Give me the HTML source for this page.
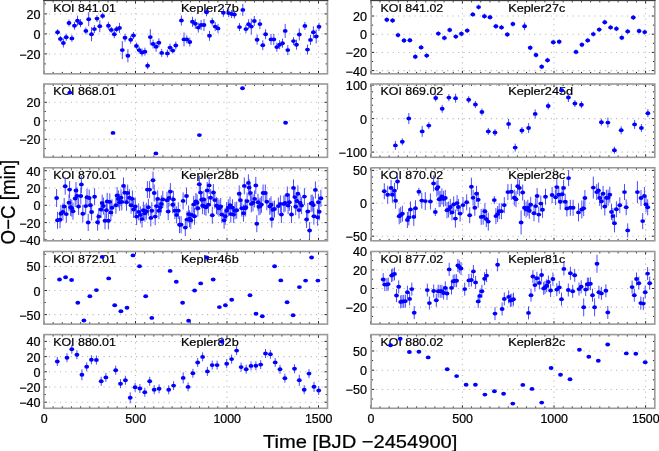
<!DOCTYPE html>
<html><head><meta charset="utf-8"><style>
html,body{margin:0;padding:0;background:#fff;}
body{width:659px;height:451px;overflow:hidden;}
svg{display:block;filter:blur(0.35px);}
text{font-family:"Liberation Sans", sans-serif;stroke:#000;stroke-width:0.22px;}
</style></head><body>
<svg width="659" height="451" viewBox="0 0 659 451">
<rect width="659" height="451" fill="#fff"/>
<g stroke="#b4b4b4" stroke-width="1.05" stroke-dasharray="1.05 4.4" stroke-dashoffset="0.52"><line x1="135.50" y1="73.80" x2="135.50" y2="1.30"/><line x1="227.00" y1="73.80" x2="227.00" y2="1.30"/><line x1="318.50" y1="73.80" x2="318.50" y2="1.30"/><line x1="44.10" y1="53.90" x2="326.70" y2="53.90"/><line x1="44.10" y1="33.90" x2="326.70" y2="33.90"/><line x1="44.10" y1="13.90" x2="326.70" y2="13.90"/></g><g fill="#000" font-family='"Liberation Sans", sans-serif'><text x="0" y="0" font-size="11.70" text-anchor="start" transform="translate(53.20 11.70) scale(1.060 1)">KOI 841.01</text><text x="0" y="0" font-size="11.70" text-anchor="start" transform="translate(180.90 11.70) scale(1.085 1)">Kepler27b</text></g><path d="M44.00 73.80v-3.00M44.00 0.50v3.00M53.15 73.80v-1.90M53.15 0.50v1.90M62.30 73.80v-1.90M62.30 0.50v1.90M71.45 73.80v-1.90M71.45 0.50v1.90M80.60 73.80v-1.90M80.60 0.50v1.90M89.75 73.80v-1.90M89.75 0.50v1.90M98.90 73.80v-1.90M98.90 0.50v1.90M108.05 73.80v-1.90M108.05 0.50v1.90M117.20 73.80v-1.90M117.20 0.50v1.90M126.35 73.80v-1.90M126.35 0.50v1.90M135.50 73.80v-3.00M135.50 0.50v3.00M144.65 73.80v-1.90M144.65 0.50v1.90M153.80 73.80v-1.90M153.80 0.50v1.90M162.95 73.80v-1.90M162.95 0.50v1.90M172.10 73.80v-1.90M172.10 0.50v1.90M181.25 73.80v-1.90M181.25 0.50v1.90M190.40 73.80v-1.90M190.40 0.50v1.90M199.55 73.80v-1.90M199.55 0.50v1.90M208.70 73.80v-1.90M208.70 0.50v1.90M217.85 73.80v-1.90M217.85 0.50v1.90M227.00 73.80v-3.00M227.00 0.50v3.00M236.15 73.80v-1.90M236.15 0.50v1.90M245.30 73.80v-1.90M245.30 0.50v1.90M254.45 73.80v-1.90M254.45 0.50v1.90M263.60 73.80v-1.90M263.60 0.50v1.90M272.75 73.80v-1.90M272.75 0.50v1.90M281.90 73.80v-1.90M281.90 0.50v1.90M291.05 73.80v-1.90M291.05 0.50v1.90M300.20 73.80v-1.90M300.20 0.50v1.90M309.35 73.80v-1.90M309.35 0.50v1.90M318.50 73.80v-3.00M318.50 0.50v3.00M43.90 63.90h1.90M327.50 63.90h-1.90M43.90 53.90h3.00M327.50 53.90h-3.00M43.90 43.90h1.90M327.50 43.90h-1.90M43.90 33.90h3.00M327.50 33.90h-3.00M43.90 23.90h1.90M327.50 23.90h-1.90M43.90 13.90h3.00M327.50 13.90h-3.00M43.90 3.90h1.90M327.50 3.90h-1.90" stroke="#262626" stroke-width="1" fill="none"/><rect x="43.90" y="0.50" width="283.60" height="73.30" fill="none" stroke="#9a9a9a" stroke-width="1.6"/><line x1="43.10" y1="0.5" x2="328.30" y2="0.5" stroke="#3c3c3c" stroke-width="1"/><g fill="#000" font-family='"Liberation Sans", sans-serif'><text x="0" y="0" font-size="12.00" text-anchor="end" transform="translate(40.50 18.95) scale(1.050 1)">20</text><text x="0" y="0" font-size="12.00" text-anchor="end" transform="translate(40.50 38.95) scale(1.050 1)">0</text><text x="0" y="0" font-size="12.00" text-anchor="end" transform="translate(40.50 58.95) scale(1.050 1)">−20</text></g><path d="M57.6 29.3v6.0M60.4 35.9v6.0M63.4 38.5v9.0M66.2 33.8v7.0M69.0 19.5v7.0M71.9 34.9v7.0M74.5 21.8v8.0M77.5 15.7v10.0M80.5 19.2v8.0M85.9 27.4v7.0M88.7 12.2v14.0M91.5 27.2v14.0M94.4 25.1v8.0M97.0 15.1v7.0M99.8 20.3v12.0M102.6 12.9v6.0M108.4 21.8v8.0M111.3 26.9v6.0M114.3 30.2v8.0M116.6 26.2v6.0M119.5 22.9v10.0M122.3 41.1v18.0M125.0 33.8v8.0M127.9 49.3v13.0M130.7 35.7v8.0M133.5 32.0v7.0M136.4 42.5v7.0M139.2 46.6v7.0M142.0 48.5v8.0M144.9 47.7v8.0M147.6 62.2v7.0M150.3 29.1v16.0M153.1 39.5v9.0M156.1 41.8v10.0M158.9 38.2v9.0M161.7 48.9v8.0M167.4 49.4v8.0M170.0 43.6v8.0M172.8 47.6v6.0M175.8 41.5v8.0M181.4 15.5v10.0M184.0 32.4v14.0M186.8 35.4v8.0M189.8 37.5v9.0M192.5 16.8v10.0M195.3 18.8v10.0M198.3 22.6v10.0M201.1 20.0v10.0M204.0 19.0v12.0M206.5 8.3v8.0M209.5 30.8v10.0M212.2 17.7v8.0M215.2 22.1v9.0M218.0 23.9v9.0M223.4 8.8v8.0M228.7 9.1v8.0M231.6 10.0v8.0M234.4 10.5v8.0M239.5 23.1v8.0M242.8 3.9v12.0M245.9 25.1v8.0M248.6 19.3v10.0M251.3 18.6v16.0M254.3 16.0v10.0M257.1 34.7v10.0M259.9 19.1v10.0M262.8 40.2v10.0M265.6 29.2v10.0M271.0 33.9v11.0M273.8 33.9v11.0M276.8 42.6v9.0M279.6 40.2v9.0M282.5 38.7v9.0M285.2 23.9v14.0M287.8 45.1v10.0M293.5 37.1v8.0M296.5 39.7v10.0M299.3 28.5v12.0M304.9 21.9v8.0M307.5 44.6v10.0M310.5 34.9v10.0M313.4 26.3v12.0M316.2 29.5v14.0M319.0 22.8v8.0" stroke="#4c4cff" stroke-width="1.0" fill="none"/><g fill="#0000ff"><ellipse cx="57.6" cy="32.3" rx="2.4" ry="1.95"/><ellipse cx="60.4" cy="38.9" rx="2.4" ry="1.95"/><ellipse cx="63.4" cy="43.0" rx="2.4" ry="1.95"/><ellipse cx="66.2" cy="37.3" rx="2.4" ry="1.95"/><ellipse cx="69.0" cy="23.0" rx="2.4" ry="1.95"/><ellipse cx="71.9" cy="38.4" rx="2.4" ry="1.95"/><ellipse cx="74.5" cy="25.8" rx="2.4" ry="1.95"/><ellipse cx="77.5" cy="20.7" rx="2.4" ry="1.95"/><ellipse cx="80.5" cy="23.2" rx="2.4" ry="1.95"/><ellipse cx="85.9" cy="30.9" rx="2.4" ry="1.95"/><ellipse cx="88.7" cy="19.2" rx="2.4" ry="1.95"/><ellipse cx="91.5" cy="34.2" rx="2.4" ry="1.95"/><ellipse cx="94.4" cy="29.1" rx="2.4" ry="1.95"/><ellipse cx="97.0" cy="18.6" rx="2.4" ry="1.95"/><ellipse cx="99.8" cy="26.3" rx="2.4" ry="1.95"/><ellipse cx="102.6" cy="15.9" rx="2.4" ry="1.95"/><ellipse cx="108.4" cy="25.8" rx="2.4" ry="1.95"/><ellipse cx="111.3" cy="29.9" rx="2.4" ry="1.95"/><ellipse cx="114.3" cy="34.2" rx="2.4" ry="1.95"/><ellipse cx="116.6" cy="29.2" rx="2.4" ry="1.95"/><ellipse cx="119.5" cy="27.9" rx="2.4" ry="1.95"/><ellipse cx="122.3" cy="50.1" rx="2.4" ry="1.95"/><ellipse cx="125.0" cy="37.8" rx="2.4" ry="1.95"/><ellipse cx="127.9" cy="55.8" rx="2.4" ry="1.95"/><ellipse cx="130.7" cy="39.7" rx="2.4" ry="1.95"/><ellipse cx="133.5" cy="35.5" rx="2.4" ry="1.95"/><ellipse cx="136.4" cy="46.0" rx="2.4" ry="1.95"/><ellipse cx="139.2" cy="50.1" rx="2.4" ry="1.95"/><ellipse cx="142.0" cy="52.5" rx="2.4" ry="1.95"/><ellipse cx="144.9" cy="51.7" rx="2.4" ry="1.95"/><ellipse cx="147.6" cy="65.7" rx="2.4" ry="1.95"/><ellipse cx="150.3" cy="37.1" rx="2.4" ry="1.95"/><ellipse cx="153.1" cy="44.0" rx="2.4" ry="1.95"/><ellipse cx="156.1" cy="46.8" rx="2.4" ry="1.95"/><ellipse cx="158.9" cy="42.7" rx="2.4" ry="1.95"/><ellipse cx="161.7" cy="52.9" rx="2.4" ry="1.95"/><ellipse cx="167.4" cy="53.4" rx="2.4" ry="1.95"/><ellipse cx="170.0" cy="47.6" rx="2.4" ry="1.95"/><ellipse cx="172.8" cy="50.6" rx="2.4" ry="1.95"/><ellipse cx="175.8" cy="45.5" rx="2.4" ry="1.95"/><ellipse cx="181.4" cy="20.5" rx="2.4" ry="1.95"/><ellipse cx="184.0" cy="39.4" rx="2.4" ry="1.95"/><ellipse cx="186.8" cy="39.4" rx="2.4" ry="1.95"/><ellipse cx="189.8" cy="42.0" rx="2.4" ry="1.95"/><ellipse cx="192.5" cy="21.8" rx="2.4" ry="1.95"/><ellipse cx="195.3" cy="23.8" rx="2.4" ry="1.95"/><ellipse cx="198.3" cy="27.6" rx="2.4" ry="1.95"/><ellipse cx="201.1" cy="25.0" rx="2.4" ry="1.95"/><ellipse cx="204.0" cy="25.0" rx="2.4" ry="1.95"/><ellipse cx="206.5" cy="12.3" rx="2.4" ry="1.95"/><ellipse cx="209.5" cy="35.8" rx="2.4" ry="1.95"/><ellipse cx="212.2" cy="21.7" rx="2.4" ry="1.95"/><ellipse cx="215.2" cy="26.6" rx="2.4" ry="1.95"/><ellipse cx="218.0" cy="28.4" rx="2.4" ry="1.95"/><ellipse cx="223.4" cy="12.8" rx="2.4" ry="1.95"/><ellipse cx="228.7" cy="13.1" rx="2.4" ry="1.95"/><ellipse cx="231.6" cy="14.0" rx="2.4" ry="1.95"/><ellipse cx="234.4" cy="14.5" rx="2.4" ry="1.95"/><ellipse cx="239.5" cy="27.1" rx="2.4" ry="1.95"/><ellipse cx="242.8" cy="9.9" rx="2.4" ry="1.95"/><ellipse cx="245.9" cy="29.1" rx="2.4" ry="1.95"/><ellipse cx="248.6" cy="24.3" rx="2.4" ry="1.95"/><ellipse cx="251.3" cy="26.6" rx="2.4" ry="1.95"/><ellipse cx="254.3" cy="21.0" rx="2.4" ry="1.95"/><ellipse cx="257.1" cy="39.7" rx="2.4" ry="1.95"/><ellipse cx="259.9" cy="24.1" rx="2.4" ry="1.95"/><ellipse cx="262.8" cy="45.2" rx="2.4" ry="1.95"/><ellipse cx="265.6" cy="34.2" rx="2.4" ry="1.95"/><ellipse cx="271.0" cy="39.4" rx="2.4" ry="1.95"/><ellipse cx="273.8" cy="39.4" rx="2.4" ry="1.95"/><ellipse cx="276.8" cy="47.1" rx="2.4" ry="1.95"/><ellipse cx="279.6" cy="44.7" rx="2.4" ry="1.95"/><ellipse cx="282.5" cy="43.2" rx="2.4" ry="1.95"/><ellipse cx="285.2" cy="30.9" rx="2.4" ry="1.95"/><ellipse cx="287.8" cy="50.1" rx="2.4" ry="1.95"/><ellipse cx="293.5" cy="41.1" rx="2.4" ry="1.95"/><ellipse cx="296.5" cy="44.7" rx="2.4" ry="1.95"/><ellipse cx="299.3" cy="34.5" rx="2.4" ry="1.95"/><ellipse cx="304.9" cy="25.9" rx="2.4" ry="1.95"/><ellipse cx="307.5" cy="49.6" rx="2.4" ry="1.95"/><ellipse cx="310.5" cy="39.9" rx="2.4" ry="1.95"/><ellipse cx="313.4" cy="32.3" rx="2.4" ry="1.95"/><ellipse cx="316.2" cy="36.5" rx="2.4" ry="1.95"/><ellipse cx="319.0" cy="26.8" rx="2.4" ry="1.95"/></g><g stroke="#b4b4b4" stroke-width="1.05" stroke-dasharray="1.05 4.4" stroke-dashoffset="0.52"><line x1="135.50" y1="157.30" x2="135.50" y2="84.80"/><line x1="227.00" y1="157.30" x2="227.00" y2="84.80"/><line x1="318.50" y1="157.30" x2="318.50" y2="84.80"/><line x1="44.10" y1="139.30" x2="326.70" y2="139.30"/><line x1="44.10" y1="120.80" x2="326.70" y2="120.80"/><line x1="44.10" y1="102.30" x2="326.70" y2="102.30"/></g><g fill="#000" font-family='"Liberation Sans", sans-serif'><text x="0" y="0" font-size="11.70" text-anchor="start" transform="translate(53.20 95.20) scale(1.060 1)">KOI 868.01</text></g><path d="M44.00 157.30v-3.00M44.00 84.00v3.00M53.15 157.30v-1.90M53.15 84.00v1.90M62.30 157.30v-1.90M62.30 84.00v1.90M71.45 157.30v-1.90M71.45 84.00v1.90M80.60 157.30v-1.90M80.60 84.00v1.90M89.75 157.30v-1.90M89.75 84.00v1.90M98.90 157.30v-1.90M98.90 84.00v1.90M108.05 157.30v-1.90M108.05 84.00v1.90M117.20 157.30v-1.90M117.20 84.00v1.90M126.35 157.30v-1.90M126.35 84.00v1.90M135.50 157.30v-3.00M135.50 84.00v3.00M144.65 157.30v-1.90M144.65 84.00v1.90M153.80 157.30v-1.90M153.80 84.00v1.90M162.95 157.30v-1.90M162.95 84.00v1.90M172.10 157.30v-1.90M172.10 84.00v1.90M181.25 157.30v-1.90M181.25 84.00v1.90M190.40 157.30v-1.90M190.40 84.00v1.90M199.55 157.30v-1.90M199.55 84.00v1.90M208.70 157.30v-1.90M208.70 84.00v1.90M217.85 157.30v-1.90M217.85 84.00v1.90M227.00 157.30v-3.00M227.00 84.00v3.00M236.15 157.30v-1.90M236.15 84.00v1.90M245.30 157.30v-1.90M245.30 84.00v1.90M254.45 157.30v-1.90M254.45 84.00v1.90M263.60 157.30v-1.90M263.60 84.00v1.90M272.75 157.30v-1.90M272.75 84.00v1.90M281.90 157.30v-1.90M281.90 84.00v1.90M291.05 157.30v-1.90M291.05 84.00v1.90M300.20 157.30v-1.90M300.20 84.00v1.90M309.35 157.30v-1.90M309.35 84.00v1.90M318.50 157.30v-3.00M318.50 84.00v3.00M43.90 148.55h1.90M327.50 148.55h-1.90M43.90 139.30h3.00M327.50 139.30h-3.00M43.90 130.05h1.90M327.50 130.05h-1.90M43.90 120.80h3.00M327.50 120.80h-3.00M43.90 111.55h1.90M327.50 111.55h-1.90M43.90 102.30h3.00M327.50 102.30h-3.00M43.90 93.05h1.90M327.50 93.05h-1.90" stroke="#262626" stroke-width="1" fill="none"/><rect x="43.90" y="84.00" width="283.60" height="73.30" fill="none" stroke="#9a9a9a" stroke-width="1.6"/><g fill="#000" font-family='"Liberation Sans", sans-serif'><text x="0" y="0" font-size="12.00" text-anchor="end" transform="translate(40.50 107.35) scale(1.050 1)">20</text><text x="0" y="0" font-size="12.00" text-anchor="end" transform="translate(40.50 125.85) scale(1.050 1)">0</text><text x="0" y="0" font-size="12.00" text-anchor="end" transform="translate(40.50 144.35) scale(1.050 1)">−20</text></g><g fill="#0000ff"><ellipse cx="69.9" cy="92.6" rx="2.4" ry="1.95"/><ellipse cx="113.0" cy="132.9" rx="2.4" ry="1.95"/><ellipse cx="155.9" cy="153.4" rx="2.4" ry="1.95"/><ellipse cx="199.4" cy="135.1" rx="2.4" ry="1.95"/><ellipse cx="242.5" cy="88.3" rx="2.4" ry="1.95"/><ellipse cx="285.6" cy="122.8" rx="2.4" ry="1.95"/></g><g stroke="#b4b4b4" stroke-width="1.05" stroke-dasharray="1.05 4.4" stroke-dashoffset="0.52"><line x1="135.50" y1="240.80" x2="135.50" y2="168.60"/><line x1="227.00" y1="240.80" x2="227.00" y2="168.60"/><line x1="318.50" y1="240.80" x2="318.50" y2="168.60"/><line x1="44.10" y1="222.60" x2="326.70" y2="222.60"/><line x1="44.10" y1="205.30" x2="326.70" y2="205.30"/><line x1="44.10" y1="188.00" x2="326.70" y2="188.00"/><line x1="44.10" y1="170.70" x2="326.70" y2="170.70"/></g><g fill="#000" font-family='"Liberation Sans", sans-serif'><text x="0" y="0" font-size="11.70" text-anchor="start" transform="translate(53.20 179.00) scale(1.060 1)">KOI 870.01</text><text x="0" y="0" font-size="11.70" text-anchor="start" transform="translate(180.90 179.00) scale(1.085 1)">Kepler28b</text></g><path d="M44.00 240.80v-3.00M44.00 167.80v3.00M53.15 240.80v-1.90M53.15 167.80v1.90M62.30 240.80v-1.90M62.30 167.80v1.90M71.45 240.80v-1.90M71.45 167.80v1.90M80.60 240.80v-1.90M80.60 167.80v1.90M89.75 240.80v-1.90M89.75 167.80v1.90M98.90 240.80v-1.90M98.90 167.80v1.90M108.05 240.80v-1.90M108.05 167.80v1.90M117.20 240.80v-1.90M117.20 167.80v1.90M126.35 240.80v-1.90M126.35 167.80v1.90M135.50 240.80v-3.00M135.50 167.80v3.00M144.65 240.80v-1.90M144.65 167.80v1.90M153.80 240.80v-1.90M153.80 167.80v1.90M162.95 240.80v-1.90M162.95 167.80v1.90M172.10 240.80v-1.90M172.10 167.80v1.90M181.25 240.80v-1.90M181.25 167.80v1.90M190.40 240.80v-1.90M190.40 167.80v1.90M199.55 240.80v-1.90M199.55 167.80v1.90M208.70 240.80v-1.90M208.70 167.80v1.90M217.85 240.80v-1.90M217.85 167.80v1.90M227.00 240.80v-3.00M227.00 167.80v3.00M236.15 240.80v-1.90M236.15 167.80v1.90M245.30 240.80v-1.90M245.30 167.80v1.90M254.45 240.80v-1.90M254.45 167.80v1.90M263.60 240.80v-1.90M263.60 167.80v1.90M272.75 240.80v-1.90M272.75 167.80v1.90M281.90 240.80v-1.90M281.90 167.80v1.90M291.05 240.80v-1.90M291.05 167.80v1.90M300.20 240.80v-1.90M300.20 167.80v1.90M309.35 240.80v-1.90M309.35 167.80v1.90M318.50 240.80v-3.00M318.50 167.80v3.00M43.90 239.90h3.00M327.50 239.90h-3.00M43.90 231.25h1.90M327.50 231.25h-1.90M43.90 222.60h3.00M327.50 222.60h-3.00M43.90 213.95h1.90M327.50 213.95h-1.90M43.90 205.30h3.00M327.50 205.30h-3.00M43.90 196.65h1.90M327.50 196.65h-1.90M43.90 188.00h3.00M327.50 188.00h-3.00M43.90 179.35h1.90M327.50 179.35h-1.90M43.90 170.70h3.00M327.50 170.70h-3.00" stroke="#262626" stroke-width="1" fill="none"/><rect x="43.90" y="167.80" width="283.60" height="73.00" fill="none" stroke="#9a9a9a" stroke-width="1.6"/><g fill="#000" font-family='"Liberation Sans", sans-serif'><text x="0" y="0" font-size="12.00" text-anchor="end" transform="translate(40.50 175.75) scale(1.050 1)">40</text><text x="0" y="0" font-size="12.00" text-anchor="end" transform="translate(40.50 193.05) scale(1.050 1)">20</text><text x="0" y="0" font-size="12.00" text-anchor="end" transform="translate(40.50 210.35) scale(1.050 1)">0</text><text x="0" y="0" font-size="12.00" text-anchor="end" transform="translate(40.50 227.65) scale(1.050 1)">−20</text><text x="0" y="0" font-size="12.00" text-anchor="end" transform="translate(40.50 244.95) scale(1.050 1)">−40</text></g><path d="M56.6 189.0v18.0M57.5 211.8v17.0M60.0 211.1v17.0M60.9 205.2v17.0M62.9 203.4v17.0M64.2 198.0v17.0M65.2 177.7v17.0M66.3 205.6v17.0M69.0 194.3v17.0M69.6 181.1v17.0M70.6 198.8v17.0M71.8 199.7v17.0M73.0 202.7v17.0M75.2 190.0v17.0M76.0 182.0v17.0M77.0 187.5v17.0M78.6 198.0v17.0M80.8 187.5v17.0M81.4 176.0v17.0M82.8 205.2v17.0M85.7 197.6v17.0M87.0 188.7v17.0M88.2 214.0v17.0M89.2 189.5v17.0M90.4 196.8v17.0M91.6 203.5v17.0M94.6 188.2v17.0M97.6 213.7v17.0M98.8 208.1v17.0M101.0 201.0v17.0M102.2 194.6v17.0M103.4 197.5v17.0M105.0 212.3v17.0M106.4 201.7v17.0M107.2 192.9v17.0M108.4 212.3v17.0M109.8 193.4v17.0M110.9 203.9v17.0M112.0 199.3v17.0M115.9 196.8v17.0M117.1 187.0v17.0M118.4 190.4v17.0M119.6 193.8v17.0M121.0 189.2v17.0M121.8 193.4v17.0M123.5 177.4v17.0M124.8 184.1v17.0M126.5 193.8v17.0M127.7 184.5v17.0M129.4 189.2v17.0M131.1 196.8v17.0M132.4 190.4v17.0M133.6 201.0v17.0M135.3 198.0v17.0M136.6 208.1v17.0M138.7 203.4v17.0M140.4 206.4v17.0M142.0 210.6v17.0M143.4 201.7v17.0M144.9 204.7v17.0M146.3 202.7v17.0M147.4 181.1v17.0M148.4 198.8v17.0M149.6 181.1v17.0M150.8 209.4v17.0M151.8 202.2v17.0M153.0 171.8v17.0M154.2 184.5v17.0M155.2 208.1v17.0M156.4 197.6v17.0M157.7 190.4v17.0M158.9 202.2v17.0M160.3 198.8v17.0M161.4 195.4v17.0M162.8 190.9v17.0M167.0 191.7v17.0M168.2 203.0v17.0M169.0 189.5v17.0M170.4 183.1v17.0M172.7 196.3v17.0M173.4 190.9v17.0M174.9 202.2v17.0M176.6 206.4v17.0M178.3 202.2v17.0M179.5 216.2v17.0M181.1 216.2v17.0M183.1 192.4v17.0M185.3 219.1v17.0M186.5 187.5v17.0M187.0 211.1v17.0M188.6 205.6v17.0M189.5 210.3v17.0M190.8 211.8v17.0M192.0 206.4v17.0M193.7 195.9v17.0M194.5 207.8v17.0M195.9 192.9v17.0M197.1 194.3v17.0M197.9 199.7v17.0M199.3 175.7v17.0M200.5 184.1v17.0M201.6 191.2v17.0M202.6 197.1v17.0M203.8 190.9v17.0M204.7 198.0v17.0M206.0 198.8v17.0M207.2 182.0v17.0M208.4 196.3v17.0M209.2 176.9v17.0M210.6 189.2v17.0M212.3 206.7v17.0M213.4 184.0v17.0M214.8 191.6v17.0M216.5 197.1v17.0M217.8 198.0v17.0M219.0 199.7v17.0M220.7 198.0v17.0M221.9 206.1v17.0M224.1 211.8v17.0M225.2 207.8v17.0M226.6 202.2v17.0M228.3 199.3v17.0M230.0 196.6v17.0M230.8 205.6v17.0M232.5 199.3v17.0M233.7 206.1v17.0M235.0 202.2v17.0M236.7 201.7v17.0M239.2 185.3v17.0M240.4 191.6v17.0M241.8 199.7v17.0M243.5 204.7v17.0M244.3 177.4v17.0M245.1 199.7v17.0M245.7 198.8v17.0M247.1 192.6v17.0M248.4 174.4v17.0M249.1 179.1v17.0M250.4 184.5v17.0M251.3 195.4v17.0M253.0 194.3v17.0M254.6 190.4v17.0M255.8 176.9v17.0M256.8 215.2v17.0M258.0 193.8v17.0M258.9 198.3v17.0M260.2 197.6v17.0M261.4 195.9v17.0M263.1 184.5v17.0M265.3 184.5v17.0M266.8 193.3v17.0M269.8 198.0v17.0M271.0 196.3v17.0M271.8 210.6v17.0M272.9 201.3v17.0M274.5 200.5v17.0M278.3 197.6v17.0M280.4 195.4v17.0M281.4 206.0v17.0M283.9 195.4v17.0M285.1 194.5v17.0M287.3 186.5v17.0M288.1 197.1v17.0M289.4 193.7v17.0M291.5 206.0v17.0M293.5 179.4v17.0M294.8 188.6v17.0M295.7 198.2v17.0M296.9 192.5v17.0M297.9 185.3v17.0M299.0 201.6v17.0M300.2 194.5v17.0M301.6 197.1v17.0M304.4 188.1v17.0M306.6 211.0v17.0M307.8 203.0v17.0M309.6 222.0v17.0M311.1 194.9v17.0M312.2 194.5v17.0M313.4 196.6v17.0M313.9 207.7v17.0M315.4 181.4v17.0M317.6 208.8v17.0M318.4 193.7v17.0M319.2 203.3v17.0M320.9 189.8v17.0" stroke="#4c4cff" stroke-width="1.0" fill="none"/><g fill="#0000ff"><ellipse cx="56.6" cy="198.0" rx="2.4" ry="1.95"/><ellipse cx="57.5" cy="220.3" rx="2.4" ry="1.95"/><ellipse cx="60.0" cy="219.6" rx="2.4" ry="1.95"/><ellipse cx="60.9" cy="213.7" rx="2.4" ry="1.95"/><ellipse cx="62.9" cy="211.9" rx="2.4" ry="1.95"/><ellipse cx="64.2" cy="206.5" rx="2.4" ry="1.95"/><ellipse cx="65.2" cy="186.2" rx="2.4" ry="1.95"/><ellipse cx="66.3" cy="214.1" rx="2.4" ry="1.95"/><ellipse cx="69.0" cy="202.8" rx="2.4" ry="1.95"/><ellipse cx="69.6" cy="189.6" rx="2.4" ry="1.95"/><ellipse cx="70.6" cy="207.3" rx="2.4" ry="1.95"/><ellipse cx="71.8" cy="208.2" rx="2.4" ry="1.95"/><ellipse cx="73.0" cy="211.2" rx="2.4" ry="1.95"/><ellipse cx="75.2" cy="198.5" rx="2.4" ry="1.95"/><ellipse cx="76.0" cy="190.5" rx="2.4" ry="1.95"/><ellipse cx="77.0" cy="196.0" rx="2.4" ry="1.95"/><ellipse cx="78.6" cy="206.5" rx="2.4" ry="1.95"/><ellipse cx="80.8" cy="196.0" rx="2.4" ry="1.95"/><ellipse cx="81.4" cy="184.5" rx="2.4" ry="1.95"/><ellipse cx="82.8" cy="213.7" rx="2.4" ry="1.95"/><ellipse cx="85.7" cy="206.1" rx="2.4" ry="1.95"/><ellipse cx="87.0" cy="197.2" rx="2.4" ry="1.95"/><ellipse cx="88.2" cy="222.5" rx="2.4" ry="1.95"/><ellipse cx="89.2" cy="198.0" rx="2.4" ry="1.95"/><ellipse cx="90.4" cy="205.3" rx="2.4" ry="1.95"/><ellipse cx="91.6" cy="212.0" rx="2.4" ry="1.95"/><ellipse cx="94.6" cy="196.7" rx="2.4" ry="1.95"/><ellipse cx="97.6" cy="222.2" rx="2.4" ry="1.95"/><ellipse cx="98.8" cy="216.6" rx="2.4" ry="1.95"/><ellipse cx="101.0" cy="209.5" rx="2.4" ry="1.95"/><ellipse cx="102.2" cy="203.1" rx="2.4" ry="1.95"/><ellipse cx="103.4" cy="206.0" rx="2.4" ry="1.95"/><ellipse cx="105.0" cy="220.8" rx="2.4" ry="1.95"/><ellipse cx="106.4" cy="210.2" rx="2.4" ry="1.95"/><ellipse cx="107.2" cy="201.4" rx="2.4" ry="1.95"/><ellipse cx="108.4" cy="220.8" rx="2.4" ry="1.95"/><ellipse cx="109.8" cy="201.9" rx="2.4" ry="1.95"/><ellipse cx="110.9" cy="212.4" rx="2.4" ry="1.95"/><ellipse cx="112.0" cy="207.8" rx="2.4" ry="1.95"/><ellipse cx="115.9" cy="205.3" rx="2.4" ry="1.95"/><ellipse cx="117.1" cy="195.5" rx="2.4" ry="1.95"/><ellipse cx="118.4" cy="198.9" rx="2.4" ry="1.95"/><ellipse cx="119.6" cy="202.3" rx="2.4" ry="1.95"/><ellipse cx="121.0" cy="197.7" rx="2.4" ry="1.95"/><ellipse cx="121.8" cy="201.9" rx="2.4" ry="1.95"/><ellipse cx="123.5" cy="185.9" rx="2.4" ry="1.95"/><ellipse cx="124.8" cy="192.6" rx="2.4" ry="1.95"/><ellipse cx="126.5" cy="202.3" rx="2.4" ry="1.95"/><ellipse cx="127.7" cy="193.0" rx="2.4" ry="1.95"/><ellipse cx="129.4" cy="197.7" rx="2.4" ry="1.95"/><ellipse cx="131.1" cy="205.3" rx="2.4" ry="1.95"/><ellipse cx="132.4" cy="198.9" rx="2.4" ry="1.95"/><ellipse cx="133.6" cy="209.5" rx="2.4" ry="1.95"/><ellipse cx="135.3" cy="206.5" rx="2.4" ry="1.95"/><ellipse cx="136.6" cy="216.6" rx="2.4" ry="1.95"/><ellipse cx="138.7" cy="211.9" rx="2.4" ry="1.95"/><ellipse cx="140.4" cy="214.9" rx="2.4" ry="1.95"/><ellipse cx="142.0" cy="219.1" rx="2.4" ry="1.95"/><ellipse cx="143.4" cy="210.2" rx="2.4" ry="1.95"/><ellipse cx="144.9" cy="213.2" rx="2.4" ry="1.95"/><ellipse cx="146.3" cy="211.2" rx="2.4" ry="1.95"/><ellipse cx="147.4" cy="189.6" rx="2.4" ry="1.95"/><ellipse cx="148.4" cy="207.3" rx="2.4" ry="1.95"/><ellipse cx="149.6" cy="189.6" rx="2.4" ry="1.95"/><ellipse cx="150.8" cy="217.9" rx="2.4" ry="1.95"/><ellipse cx="151.8" cy="210.7" rx="2.4" ry="1.95"/><ellipse cx="153.0" cy="180.3" rx="2.4" ry="1.95"/><ellipse cx="154.2" cy="193.0" rx="2.4" ry="1.95"/><ellipse cx="155.2" cy="216.6" rx="2.4" ry="1.95"/><ellipse cx="156.4" cy="206.1" rx="2.4" ry="1.95"/><ellipse cx="157.7" cy="198.9" rx="2.4" ry="1.95"/><ellipse cx="158.9" cy="210.7" rx="2.4" ry="1.95"/><ellipse cx="160.3" cy="207.3" rx="2.4" ry="1.95"/><ellipse cx="161.4" cy="203.9" rx="2.4" ry="1.95"/><ellipse cx="162.8" cy="199.4" rx="2.4" ry="1.95"/><ellipse cx="167.0" cy="200.2" rx="2.4" ry="1.95"/><ellipse cx="168.2" cy="211.5" rx="2.4" ry="1.95"/><ellipse cx="169.0" cy="198.0" rx="2.4" ry="1.95"/><ellipse cx="170.4" cy="191.6" rx="2.4" ry="1.95"/><ellipse cx="172.7" cy="204.8" rx="2.4" ry="1.95"/><ellipse cx="173.4" cy="199.4" rx="2.4" ry="1.95"/><ellipse cx="174.9" cy="210.7" rx="2.4" ry="1.95"/><ellipse cx="176.6" cy="214.9" rx="2.4" ry="1.95"/><ellipse cx="178.3" cy="210.7" rx="2.4" ry="1.95"/><ellipse cx="179.5" cy="224.7" rx="2.4" ry="1.95"/><ellipse cx="181.1" cy="224.7" rx="2.4" ry="1.95"/><ellipse cx="183.1" cy="200.9" rx="2.4" ry="1.95"/><ellipse cx="185.3" cy="227.6" rx="2.4" ry="1.95"/><ellipse cx="186.5" cy="196.0" rx="2.4" ry="1.95"/><ellipse cx="187.0" cy="219.6" rx="2.4" ry="1.95"/><ellipse cx="188.6" cy="214.1" rx="2.4" ry="1.95"/><ellipse cx="189.5" cy="218.8" rx="2.4" ry="1.95"/><ellipse cx="190.8" cy="220.3" rx="2.4" ry="1.95"/><ellipse cx="192.0" cy="214.9" rx="2.4" ry="1.95"/><ellipse cx="193.7" cy="204.4" rx="2.4" ry="1.95"/><ellipse cx="194.5" cy="216.3" rx="2.4" ry="1.95"/><ellipse cx="195.9" cy="201.4" rx="2.4" ry="1.95"/><ellipse cx="197.1" cy="202.8" rx="2.4" ry="1.95"/><ellipse cx="197.9" cy="208.2" rx="2.4" ry="1.95"/><ellipse cx="199.3" cy="184.2" rx="2.4" ry="1.95"/><ellipse cx="200.5" cy="192.6" rx="2.4" ry="1.95"/><ellipse cx="201.6" cy="199.7" rx="2.4" ry="1.95"/><ellipse cx="202.6" cy="205.6" rx="2.4" ry="1.95"/><ellipse cx="203.8" cy="199.4" rx="2.4" ry="1.95"/><ellipse cx="204.7" cy="206.5" rx="2.4" ry="1.95"/><ellipse cx="206.0" cy="207.3" rx="2.4" ry="1.95"/><ellipse cx="207.2" cy="190.5" rx="2.4" ry="1.95"/><ellipse cx="208.4" cy="204.8" rx="2.4" ry="1.95"/><ellipse cx="209.2" cy="185.4" rx="2.4" ry="1.95"/><ellipse cx="210.6" cy="197.7" rx="2.4" ry="1.95"/><ellipse cx="212.3" cy="215.2" rx="2.4" ry="1.95"/><ellipse cx="213.4" cy="192.5" rx="2.4" ry="1.95"/><ellipse cx="214.8" cy="200.1" rx="2.4" ry="1.95"/><ellipse cx="216.5" cy="205.6" rx="2.4" ry="1.95"/><ellipse cx="217.8" cy="206.5" rx="2.4" ry="1.95"/><ellipse cx="219.0" cy="208.2" rx="2.4" ry="1.95"/><ellipse cx="220.7" cy="206.5" rx="2.4" ry="1.95"/><ellipse cx="221.9" cy="214.6" rx="2.4" ry="1.95"/><ellipse cx="224.1" cy="220.3" rx="2.4" ry="1.95"/><ellipse cx="225.2" cy="216.3" rx="2.4" ry="1.95"/><ellipse cx="226.6" cy="210.7" rx="2.4" ry="1.95"/><ellipse cx="228.3" cy="207.8" rx="2.4" ry="1.95"/><ellipse cx="230.0" cy="205.1" rx="2.4" ry="1.95"/><ellipse cx="230.8" cy="214.1" rx="2.4" ry="1.95"/><ellipse cx="232.5" cy="207.8" rx="2.4" ry="1.95"/><ellipse cx="233.7" cy="214.6" rx="2.4" ry="1.95"/><ellipse cx="235.0" cy="210.7" rx="2.4" ry="1.95"/><ellipse cx="236.7" cy="210.2" rx="2.4" ry="1.95"/><ellipse cx="239.2" cy="193.8" rx="2.4" ry="1.95"/><ellipse cx="240.4" cy="200.1" rx="2.4" ry="1.95"/><ellipse cx="241.8" cy="208.2" rx="2.4" ry="1.95"/><ellipse cx="243.5" cy="213.2" rx="2.4" ry="1.95"/><ellipse cx="244.3" cy="185.9" rx="2.4" ry="1.95"/><ellipse cx="245.1" cy="208.2" rx="2.4" ry="1.95"/><ellipse cx="245.7" cy="207.3" rx="2.4" ry="1.95"/><ellipse cx="247.1" cy="201.1" rx="2.4" ry="1.95"/><ellipse cx="248.4" cy="182.9" rx="2.4" ry="1.95"/><ellipse cx="249.1" cy="187.6" rx="2.4" ry="1.95"/><ellipse cx="250.4" cy="193.0" rx="2.4" ry="1.95"/><ellipse cx="251.3" cy="203.9" rx="2.4" ry="1.95"/><ellipse cx="253.0" cy="202.8" rx="2.4" ry="1.95"/><ellipse cx="254.6" cy="198.9" rx="2.4" ry="1.95"/><ellipse cx="255.8" cy="185.4" rx="2.4" ry="1.95"/><ellipse cx="256.8" cy="223.7" rx="2.4" ry="1.95"/><ellipse cx="258.0" cy="202.3" rx="2.4" ry="1.95"/><ellipse cx="258.9" cy="206.8" rx="2.4" ry="1.95"/><ellipse cx="260.2" cy="206.1" rx="2.4" ry="1.95"/><ellipse cx="261.4" cy="204.4" rx="2.4" ry="1.95"/><ellipse cx="263.1" cy="193.0" rx="2.4" ry="1.95"/><ellipse cx="265.3" cy="193.0" rx="2.4" ry="1.95"/><ellipse cx="266.8" cy="201.8" rx="2.4" ry="1.95"/><ellipse cx="269.8" cy="206.5" rx="2.4" ry="1.95"/><ellipse cx="271.0" cy="204.8" rx="2.4" ry="1.95"/><ellipse cx="271.8" cy="219.1" rx="2.4" ry="1.95"/><ellipse cx="272.9" cy="209.8" rx="2.4" ry="1.95"/><ellipse cx="274.5" cy="209.0" rx="2.4" ry="1.95"/><ellipse cx="278.3" cy="206.1" rx="2.4" ry="1.95"/><ellipse cx="280.4" cy="203.9" rx="2.4" ry="1.95"/><ellipse cx="281.4" cy="214.5" rx="2.4" ry="1.95"/><ellipse cx="283.9" cy="203.9" rx="2.4" ry="1.95"/><ellipse cx="285.1" cy="203.0" rx="2.4" ry="1.95"/><ellipse cx="287.3" cy="195.0" rx="2.4" ry="1.95"/><ellipse cx="288.1" cy="205.6" rx="2.4" ry="1.95"/><ellipse cx="289.4" cy="202.2" rx="2.4" ry="1.95"/><ellipse cx="291.5" cy="214.5" rx="2.4" ry="1.95"/><ellipse cx="293.5" cy="187.9" rx="2.4" ry="1.95"/><ellipse cx="294.8" cy="197.1" rx="2.4" ry="1.95"/><ellipse cx="295.7" cy="206.7" rx="2.4" ry="1.95"/><ellipse cx="296.9" cy="201.0" rx="2.4" ry="1.95"/><ellipse cx="297.9" cy="193.8" rx="2.4" ry="1.95"/><ellipse cx="299.0" cy="210.1" rx="2.4" ry="1.95"/><ellipse cx="300.2" cy="203.0" rx="2.4" ry="1.95"/><ellipse cx="301.6" cy="205.6" rx="2.4" ry="1.95"/><ellipse cx="304.4" cy="196.6" rx="2.4" ry="1.95"/><ellipse cx="306.6" cy="219.5" rx="2.4" ry="1.95"/><ellipse cx="307.8" cy="211.5" rx="2.4" ry="1.95"/><ellipse cx="309.6" cy="230.5" rx="2.4" ry="1.95"/><ellipse cx="311.1" cy="203.4" rx="2.4" ry="1.95"/><ellipse cx="312.2" cy="203.0" rx="2.4" ry="1.95"/><ellipse cx="313.4" cy="205.1" rx="2.4" ry="1.95"/><ellipse cx="313.9" cy="216.2" rx="2.4" ry="1.95"/><ellipse cx="315.4" cy="189.9" rx="2.4" ry="1.95"/><ellipse cx="317.6" cy="217.3" rx="2.4" ry="1.95"/><ellipse cx="318.4" cy="202.2" rx="2.4" ry="1.95"/><ellipse cx="319.2" cy="211.8" rx="2.4" ry="1.95"/><ellipse cx="320.9" cy="198.3" rx="2.4" ry="1.95"/></g><g stroke="#b4b4b4" stroke-width="1.05" stroke-dasharray="1.05 4.4" stroke-dashoffset="0.52"><line x1="135.50" y1="324.10" x2="135.50" y2="252.30"/><line x1="227.00" y1="324.10" x2="227.00" y2="252.30"/><line x1="318.50" y1="324.10" x2="318.50" y2="252.30"/><line x1="44.10" y1="314.60" x2="326.70" y2="314.60"/><line x1="44.10" y1="290.50" x2="326.70" y2="290.50"/><line x1="44.10" y1="266.40" x2="326.70" y2="266.40"/></g><g fill="#000" font-family='"Liberation Sans", sans-serif'><text x="0" y="0" font-size="11.70" text-anchor="start" transform="translate(53.20 262.70) scale(1.060 1)">KOI 872.01</text><text x="0" y="0" font-size="11.70" text-anchor="start" transform="translate(180.90 262.70) scale(1.085 1)">Kepler46b</text></g><path d="M44.00 324.10v-3.00M44.00 251.50v3.00M53.15 324.10v-1.90M53.15 251.50v1.90M62.30 324.10v-1.90M62.30 251.50v1.90M71.45 324.10v-1.90M71.45 251.50v1.90M80.60 324.10v-1.90M80.60 251.50v1.90M89.75 324.10v-1.90M89.75 251.50v1.90M98.90 324.10v-1.90M98.90 251.50v1.90M108.05 324.10v-1.90M108.05 251.50v1.90M117.20 324.10v-1.90M117.20 251.50v1.90M126.35 324.10v-1.90M126.35 251.50v1.90M135.50 324.10v-3.00M135.50 251.50v3.00M144.65 324.10v-1.90M144.65 251.50v1.90M153.80 324.10v-1.90M153.80 251.50v1.90M162.95 324.10v-1.90M162.95 251.50v1.90M172.10 324.10v-1.90M172.10 251.50v1.90M181.25 324.10v-1.90M181.25 251.50v1.90M190.40 324.10v-1.90M190.40 251.50v1.90M199.55 324.10v-1.90M199.55 251.50v1.90M208.70 324.10v-1.90M208.70 251.50v1.90M217.85 324.10v-1.90M217.85 251.50v1.90M227.00 324.10v-3.00M227.00 251.50v3.00M236.15 324.10v-1.90M236.15 251.50v1.90M245.30 324.10v-1.90M245.30 251.50v1.90M254.45 324.10v-1.90M254.45 251.50v1.90M263.60 324.10v-1.90M263.60 251.50v1.90M272.75 324.10v-1.90M272.75 251.50v1.90M281.90 324.10v-1.90M281.90 251.50v1.90M291.05 324.10v-1.90M291.05 251.50v1.90M300.20 324.10v-1.90M300.20 251.50v1.90M309.35 324.10v-1.90M309.35 251.50v1.90M318.50 324.10v-3.00M318.50 251.50v3.00M43.90 314.60h3.00M327.50 314.60h-3.00M43.90 302.55h1.90M327.50 302.55h-1.90M43.90 290.50h3.00M327.50 290.50h-3.00M43.90 278.45h1.90M327.50 278.45h-1.90M43.90 266.40h3.00M327.50 266.40h-3.00M43.90 254.35h1.90M327.50 254.35h-1.90" stroke="#262626" stroke-width="1" fill="none"/><rect x="43.90" y="251.50" width="283.60" height="72.60" fill="none" stroke="#9a9a9a" stroke-width="1.6"/><g fill="#000" font-family='"Liberation Sans", sans-serif'><text x="0" y="0" font-size="12.00" text-anchor="end" transform="translate(40.50 271.45) scale(1.050 1)">50</text><text x="0" y="0" font-size="12.00" text-anchor="end" transform="translate(40.50 295.55) scale(1.050 1)">0</text><text x="0" y="0" font-size="12.00" text-anchor="end" transform="translate(40.50 319.65) scale(1.050 1)">−50</text></g><g fill="#0000ff"><ellipse cx="59.5" cy="279.5" rx="2.4" ry="1.95"/><ellipse cx="65.6" cy="277.2" rx="2.4" ry="1.95"/><ellipse cx="71.6" cy="280.0" rx="2.4" ry="1.95"/><ellipse cx="77.8" cy="302.8" rx="2.4" ry="1.95"/><ellipse cx="83.9" cy="320.5" rx="2.4" ry="1.95"/><ellipse cx="89.9" cy="296.3" rx="2.4" ry="1.95"/><ellipse cx="96.4" cy="290.1" rx="2.4" ry="1.95"/><ellipse cx="102.2" cy="256.9" rx="2.4" ry="1.95"/><ellipse cx="108.7" cy="278.4" rx="2.4" ry="1.95"/><ellipse cx="114.7" cy="305.2" rx="2.4" ry="1.95"/><ellipse cx="120.9" cy="311.2" rx="2.4" ry="1.95"/><ellipse cx="127.0" cy="307.8" rx="2.4" ry="1.95"/><ellipse cx="133.0" cy="255.4" rx="2.4" ry="1.95"/><ellipse cx="139.5" cy="266.2" rx="2.4" ry="1.95"/><ellipse cx="145.7" cy="296.3" rx="2.4" ry="1.95"/><ellipse cx="151.8" cy="317.9" rx="2.4" ry="1.95"/><ellipse cx="170.1" cy="270.9" rx="2.4" ry="1.95"/><ellipse cx="176.3" cy="281.7" rx="2.4" ry="1.95"/><ellipse cx="182.6" cy="302.8" rx="2.4" ry="1.95"/><ellipse cx="188.6" cy="320.7" rx="2.4" ry="1.95"/><ellipse cx="194.6" cy="290.5" rx="2.4" ry="1.95"/><ellipse cx="200.7" cy="283.4" rx="2.4" ry="1.95"/><ellipse cx="206.9" cy="257.5" rx="2.4" ry="1.95"/><ellipse cx="213.2" cy="279.5" rx="2.4" ry="1.95"/><ellipse cx="219.4" cy="307.1" rx="2.4" ry="1.95"/><ellipse cx="225.4" cy="305.2" rx="2.4" ry="1.95"/><ellipse cx="231.7" cy="299.8" rx="2.4" ry="1.95"/><ellipse cx="250.0" cy="295.3" rx="2.4" ry="1.95"/><ellipse cx="256.0" cy="313.8" rx="2.4" ry="1.95"/><ellipse cx="262.3" cy="316.2" rx="2.4" ry="1.95"/><ellipse cx="274.6" cy="266.2" rx="2.4" ry="1.95"/><ellipse cx="280.8" cy="280.4" rx="2.4" ry="1.95"/><ellipse cx="287.1" cy="302.2" rx="2.4" ry="1.95"/><ellipse cx="293.1" cy="315.3" rx="2.4" ry="1.95"/><ellipse cx="299.4" cy="287.1" rx="2.4" ry="1.95"/><ellipse cx="305.6" cy="280.6" rx="2.4" ry="1.95"/><ellipse cx="311.6" cy="257.5" rx="2.4" ry="1.95"/><ellipse cx="317.9" cy="280.6" rx="2.4" ry="1.95"/></g><g stroke="#b4b4b4" stroke-width="1.05" stroke-dasharray="1.05 4.4" stroke-dashoffset="0.52"><line x1="135.50" y1="408.30" x2="135.50" y2="335.40"/><line x1="227.00" y1="408.30" x2="227.00" y2="335.40"/><line x1="318.50" y1="408.30" x2="318.50" y2="335.40"/><line x1="44.10" y1="402.20" x2="326.70" y2="402.20"/><line x1="44.10" y1="387.00" x2="326.70" y2="387.00"/><line x1="44.10" y1="371.80" x2="326.70" y2="371.80"/><line x1="44.10" y1="356.60" x2="326.70" y2="356.60"/><line x1="44.10" y1="341.40" x2="326.70" y2="341.40"/></g><g fill="#000" font-family='"Liberation Sans", sans-serif'><text x="0" y="0" font-size="11.70" text-anchor="start" transform="translate(53.20 345.80) scale(1.060 1)">KOI 880.01</text><text x="0" y="0" font-size="11.70" text-anchor="start" transform="translate(180.90 345.80) scale(1.085 1)">Kepler82b</text></g><path d="M44.00 408.30v-3.00M44.00 334.60v3.00M53.15 408.30v-1.90M53.15 334.60v1.90M62.30 408.30v-1.90M62.30 334.60v1.90M71.45 408.30v-1.90M71.45 334.60v1.90M80.60 408.30v-1.90M80.60 334.60v1.90M89.75 408.30v-1.90M89.75 334.60v1.90M98.90 408.30v-1.90M98.90 334.60v1.90M108.05 408.30v-1.90M108.05 334.60v1.90M117.20 408.30v-1.90M117.20 334.60v1.90M126.35 408.30v-1.90M126.35 334.60v1.90M135.50 408.30v-3.00M135.50 334.60v3.00M144.65 408.30v-1.90M144.65 334.60v1.90M153.80 408.30v-1.90M153.80 334.60v1.90M162.95 408.30v-1.90M162.95 334.60v1.90M172.10 408.30v-1.90M172.10 334.60v1.90M181.25 408.30v-1.90M181.25 334.60v1.90M190.40 408.30v-1.90M190.40 334.60v1.90M199.55 408.30v-1.90M199.55 334.60v1.90M208.70 408.30v-1.90M208.70 334.60v1.90M217.85 408.30v-1.90M217.85 334.60v1.90M227.00 408.30v-3.00M227.00 334.60v3.00M236.15 408.30v-1.90M236.15 334.60v1.90M245.30 408.30v-1.90M245.30 334.60v1.90M254.45 408.30v-1.90M254.45 334.60v1.90M263.60 408.30v-1.90M263.60 334.60v1.90M272.75 408.30v-1.90M272.75 334.60v1.90M281.90 408.30v-1.90M281.90 334.60v1.90M291.05 408.30v-1.90M291.05 334.60v1.90M300.20 408.30v-1.90M300.20 334.60v1.90M309.35 408.30v-1.90M309.35 334.60v1.90M318.50 408.30v-3.00M318.50 334.60v3.00M43.90 402.20h3.00M327.50 402.20h-3.00M43.90 394.60h1.90M327.50 394.60h-1.90M43.90 387.00h3.00M327.50 387.00h-3.00M43.90 379.40h1.90M327.50 379.40h-1.90M43.90 371.80h3.00M327.50 371.80h-3.00M43.90 364.20h1.90M327.50 364.20h-1.90M43.90 356.60h3.00M327.50 356.60h-3.00M43.90 349.00h1.90M327.50 349.00h-1.90M43.90 341.40h3.00M327.50 341.40h-3.00" stroke="#262626" stroke-width="1" fill="none"/><rect x="43.90" y="334.60" width="283.60" height="73.70" fill="none" stroke="#9a9a9a" stroke-width="1.6"/><g fill="#000" font-family='"Liberation Sans", sans-serif'><text x="0" y="0" font-size="12.00" text-anchor="end" transform="translate(40.50 346.45) scale(1.050 1)">40</text><text x="0" y="0" font-size="12.00" text-anchor="end" transform="translate(40.50 361.65) scale(1.050 1)">20</text><text x="0" y="0" font-size="12.00" text-anchor="end" transform="translate(40.50 376.85) scale(1.050 1)">0</text><text x="0" y="0" font-size="12.00" text-anchor="end" transform="translate(40.50 392.05) scale(1.050 1)">−20</text><text x="0" y="0" font-size="12.00" text-anchor="end" transform="translate(40.50 407.25) scale(1.050 1)">−40</text></g><path d="M57.3 357.0v9.0M67.0 353.2v9.0M71.8 344.7v9.0M76.9 350.2v9.0M81.9 369.3v11.0M86.7 362.3v9.0M91.4 355.3v9.0M96.4 355.5v9.0M101.2 376.8v9.0M105.9 372.9v9.0M115.7 365.7v9.0M120.5 379.2v9.0M125.4 375.8v9.0M130.2 392.3v11.0M135.1 382.8v9.0M139.9 384.0v9.0M144.8 387.7v9.0M149.7 376.8v9.0M154.2 385.2v9.0M159.1 384.3v9.0M168.7 385.3v9.0M173.6 381.1v9.0M183.2 372.4v11.0M188.1 382.4v9.0M192.9 368.8v9.0M197.7 358.0v9.0M202.6 352.4v9.0M207.4 366.9v9.0M212.2 360.6v9.0M217.1 360.6v9.0M221.9 337.0v9.0M226.7 359.2v9.0M231.6 354.6v9.0M236.6 346.1v9.0M241.1 362.6v9.0M246.2 364.7v9.0M251.0 361.4v9.0M255.9 361.3v9.0M260.7 360.1v9.0M265.5 349.0v9.0M270.4 349.8v9.0M275.2 357.9v9.0M280.0 364.8v9.0M284.9 373.7v9.0M294.5 364.3v9.0M299.3 374.8v11.0M304.2 385.2v9.0M309.0 369.1v9.0M314.0 381.8v10.0M318.7 386.0v9.0" stroke="#4c4cff" stroke-width="1.0" fill="none"/><g fill="#0000ff"><ellipse cx="57.3" cy="361.5" rx="2.4" ry="1.95"/><ellipse cx="67.0" cy="357.7" rx="2.4" ry="1.95"/><ellipse cx="71.8" cy="349.2" rx="2.4" ry="1.95"/><ellipse cx="76.9" cy="354.7" rx="2.4" ry="1.95"/><ellipse cx="81.9" cy="374.8" rx="2.4" ry="1.95"/><ellipse cx="86.7" cy="366.8" rx="2.4" ry="1.95"/><ellipse cx="91.4" cy="359.8" rx="2.4" ry="1.95"/><ellipse cx="96.4" cy="360.0" rx="2.4" ry="1.95"/><ellipse cx="101.2" cy="381.3" rx="2.4" ry="1.95"/><ellipse cx="105.9" cy="377.4" rx="2.4" ry="1.95"/><ellipse cx="115.7" cy="370.2" rx="2.4" ry="1.95"/><ellipse cx="120.5" cy="383.7" rx="2.4" ry="1.95"/><ellipse cx="125.4" cy="380.3" rx="2.4" ry="1.95"/><ellipse cx="130.2" cy="397.8" rx="2.4" ry="1.95"/><ellipse cx="135.1" cy="387.3" rx="2.4" ry="1.95"/><ellipse cx="139.9" cy="388.5" rx="2.4" ry="1.95"/><ellipse cx="144.8" cy="392.2" rx="2.4" ry="1.95"/><ellipse cx="149.7" cy="381.3" rx="2.4" ry="1.95"/><ellipse cx="154.2" cy="389.7" rx="2.4" ry="1.95"/><ellipse cx="159.1" cy="388.8" rx="2.4" ry="1.95"/><ellipse cx="168.7" cy="389.8" rx="2.4" ry="1.95"/><ellipse cx="173.6" cy="385.6" rx="2.4" ry="1.95"/><ellipse cx="183.2" cy="377.9" rx="2.4" ry="1.95"/><ellipse cx="188.1" cy="386.9" rx="2.4" ry="1.95"/><ellipse cx="192.9" cy="373.3" rx="2.4" ry="1.95"/><ellipse cx="197.7" cy="362.5" rx="2.4" ry="1.95"/><ellipse cx="202.6" cy="356.9" rx="2.4" ry="1.95"/><ellipse cx="207.4" cy="371.4" rx="2.4" ry="1.95"/><ellipse cx="212.2" cy="365.1" rx="2.4" ry="1.95"/><ellipse cx="217.1" cy="365.1" rx="2.4" ry="1.95"/><ellipse cx="221.9" cy="341.5" rx="2.4" ry="1.95"/><ellipse cx="226.7" cy="363.7" rx="2.4" ry="1.95"/><ellipse cx="231.6" cy="359.1" rx="2.4" ry="1.95"/><ellipse cx="236.6" cy="350.6" rx="2.4" ry="1.95"/><ellipse cx="241.1" cy="367.1" rx="2.4" ry="1.95"/><ellipse cx="246.2" cy="369.2" rx="2.4" ry="1.95"/><ellipse cx="251.0" cy="365.9" rx="2.4" ry="1.95"/><ellipse cx="255.9" cy="365.8" rx="2.4" ry="1.95"/><ellipse cx="260.7" cy="364.6" rx="2.4" ry="1.95"/><ellipse cx="265.5" cy="353.5" rx="2.4" ry="1.95"/><ellipse cx="270.4" cy="354.3" rx="2.4" ry="1.95"/><ellipse cx="275.2" cy="362.4" rx="2.4" ry="1.95"/><ellipse cx="280.0" cy="369.3" rx="2.4" ry="1.95"/><ellipse cx="284.9" cy="378.2" rx="2.4" ry="1.95"/><ellipse cx="294.5" cy="368.8" rx="2.4" ry="1.95"/><ellipse cx="299.3" cy="380.3" rx="2.4" ry="1.95"/><ellipse cx="304.2" cy="389.7" rx="2.4" ry="1.95"/><ellipse cx="309.0" cy="373.6" rx="2.4" ry="1.95"/><ellipse cx="314.0" cy="386.8" rx="2.4" ry="1.95"/><ellipse cx="318.7" cy="390.5" rx="2.4" ry="1.95"/></g><g stroke="#b4b4b4" stroke-width="1.05" stroke-dasharray="1.05 4.4" stroke-dashoffset="0.52"><line x1="462.40" y1="73.80" x2="462.40" y2="1.30"/><line x1="554.00" y1="73.80" x2="554.00" y2="1.30"/><line x1="645.60" y1="73.80" x2="645.60" y2="1.30"/><line x1="371.40" y1="70.60" x2="654.00" y2="70.60"/><line x1="371.40" y1="52.40" x2="654.00" y2="52.40"/><line x1="371.40" y1="34.20" x2="654.00" y2="34.20"/><line x1="371.40" y1="16.00" x2="654.00" y2="16.00"/></g><g fill="#000" font-family='"Liberation Sans", sans-serif'><text x="0" y="0" font-size="11.70" text-anchor="start" transform="translate(380.50 11.70) scale(1.060 1)">KOI 841.02</text><text x="0" y="0" font-size="11.70" text-anchor="start" transform="translate(508.20 11.70) scale(1.085 1)">Kepler27c</text></g><path d="M370.80 73.80v-3.00M370.80 0.50v3.00M379.96 73.80v-1.90M379.96 0.50v1.90M389.12 73.80v-1.90M389.12 0.50v1.90M398.28 73.80v-1.90M398.28 0.50v1.90M407.44 73.80v-1.90M407.44 0.50v1.90M416.60 73.80v-1.90M416.60 0.50v1.90M425.76 73.80v-1.90M425.76 0.50v1.90M434.92 73.80v-1.90M434.92 0.50v1.90M444.08 73.80v-1.90M444.08 0.50v1.90M453.24 73.80v-1.90M453.24 0.50v1.90M462.40 73.80v-3.00M462.40 0.50v3.00M471.56 73.80v-1.90M471.56 0.50v1.90M480.72 73.80v-1.90M480.72 0.50v1.90M489.88 73.80v-1.90M489.88 0.50v1.90M499.04 73.80v-1.90M499.04 0.50v1.90M508.20 73.80v-1.90M508.20 0.50v1.90M517.36 73.80v-1.90M517.36 0.50v1.90M526.52 73.80v-1.90M526.52 0.50v1.90M535.68 73.80v-1.90M535.68 0.50v1.90M544.84 73.80v-1.90M544.84 0.50v1.90M554.00 73.80v-3.00M554.00 0.50v3.00M563.16 73.80v-1.90M563.16 0.50v1.90M572.32 73.80v-1.90M572.32 0.50v1.90M581.48 73.80v-1.90M581.48 0.50v1.90M590.64 73.80v-1.90M590.64 0.50v1.90M599.80 73.80v-1.90M599.80 0.50v1.90M608.96 73.80v-1.90M608.96 0.50v1.90M618.12 73.80v-1.90M618.12 0.50v1.90M627.28 73.80v-1.90M627.28 0.50v1.90M636.44 73.80v-1.90M636.44 0.50v1.90M645.60 73.80v-3.00M645.60 0.50v3.00M371.20 70.60h3.00M654.80 70.60h-3.00M371.20 61.50h1.90M654.80 61.50h-1.90M371.20 52.40h3.00M654.80 52.40h-3.00M371.20 43.30h1.90M654.80 43.30h-1.90M371.20 34.20h3.00M654.80 34.20h-3.00M371.20 25.10h1.90M654.80 25.10h-1.90M371.20 16.00h3.00M654.80 16.00h-3.00M371.20 6.90h1.90M654.80 6.90h-1.90" stroke="#262626" stroke-width="1" fill="none"/><rect x="371.20" y="0.50" width="283.60" height="73.30" fill="none" stroke="#9a9a9a" stroke-width="1.6"/><line x1="370.40" y1="0.5" x2="655.60" y2="0.5" stroke="#3c3c3c" stroke-width="1"/><g fill="#000" font-family='"Liberation Sans", sans-serif'><text x="0" y="0" font-size="12.00" text-anchor="end" transform="translate(366.90 21.05) scale(1.050 1)">20</text><text x="0" y="0" font-size="12.00" text-anchor="end" transform="translate(366.90 39.25) scale(1.050 1)">0</text><text x="0" y="0" font-size="12.00" text-anchor="end" transform="translate(366.90 57.45) scale(1.050 1)">−20</text><text x="0" y="0" font-size="12.00" text-anchor="end" transform="translate(366.90 75.65) scale(1.050 1)">−40</text></g><path d="M386.8 17.3v5.0M392.6 18.0v5.0M398.0 32.6v5.0M404.0 38.0v5.0M409.9 37.8v5.0M415.3 54.2v5.0M421.1 44.9v5.0M426.7 53.1v5.0M438.3 31.1v5.0M444.4 35.4v5.0M449.7 27.5v5.0M455.8 34.1v5.0M461.4 31.3v5.0M467.2 28.1v5.0M472.8 11.9v5.0M478.6 4.6v5.0M484.4 13.7v5.0M490.0 14.7v5.0M495.9 23.8v5.0M501.5 24.9v5.0M507.3 32.0v5.0M512.9 21.5v5.0M524.6 22.3v8.0M530.2 45.3v5.0M536.0 52.5v5.0M541.7 64.2v5.0M547.5 57.7v5.0M553.3 39.7v5.0M559.2 39.3v5.0M576.0 49.4v5.0M581.9 42.2v5.0M587.7 37.9v5.0M593.3 31.6v5.0M599.2 27.1v5.0M604.8 19.7v5.0M610.6 24.9v5.0M616.4 26.2v5.0M621.8 35.2v5.0M627.7 28.9v5.0M633.3 15.0v5.0M639.1 28.5v5.0M644.7 29.6v5.0" stroke="#4c4cff" stroke-width="1.0" fill="none"/><g fill="#0000ff"><ellipse cx="386.8" cy="19.8" rx="2.4" ry="1.95"/><ellipse cx="392.6" cy="20.5" rx="2.4" ry="1.95"/><ellipse cx="398.0" cy="35.1" rx="2.4" ry="1.95"/><ellipse cx="404.0" cy="40.5" rx="2.4" ry="1.95"/><ellipse cx="409.9" cy="40.3" rx="2.4" ry="1.95"/><ellipse cx="415.3" cy="56.7" rx="2.4" ry="1.95"/><ellipse cx="421.1" cy="47.4" rx="2.4" ry="1.95"/><ellipse cx="426.7" cy="55.6" rx="2.4" ry="1.95"/><ellipse cx="438.3" cy="33.6" rx="2.4" ry="1.95"/><ellipse cx="444.4" cy="37.9" rx="2.4" ry="1.95"/><ellipse cx="449.7" cy="30.0" rx="2.4" ry="1.95"/><ellipse cx="455.8" cy="36.6" rx="2.4" ry="1.95"/><ellipse cx="461.4" cy="33.8" rx="2.4" ry="1.95"/><ellipse cx="467.2" cy="30.6" rx="2.4" ry="1.95"/><ellipse cx="472.8" cy="14.4" rx="2.4" ry="1.95"/><ellipse cx="478.6" cy="7.1" rx="2.4" ry="1.95"/><ellipse cx="484.4" cy="16.2" rx="2.4" ry="1.95"/><ellipse cx="490.0" cy="17.2" rx="2.4" ry="1.95"/><ellipse cx="495.9" cy="26.3" rx="2.4" ry="1.95"/><ellipse cx="501.5" cy="27.4" rx="2.4" ry="1.95"/><ellipse cx="507.3" cy="34.5" rx="2.4" ry="1.95"/><ellipse cx="512.9" cy="24.0" rx="2.4" ry="1.95"/><ellipse cx="524.6" cy="26.3" rx="2.4" ry="1.95"/><ellipse cx="530.2" cy="47.8" rx="2.4" ry="1.95"/><ellipse cx="536.0" cy="55.0" rx="2.4" ry="1.95"/><ellipse cx="541.7" cy="66.7" rx="2.4" ry="1.95"/><ellipse cx="547.5" cy="60.2" rx="2.4" ry="1.95"/><ellipse cx="553.3" cy="42.2" rx="2.4" ry="1.95"/><ellipse cx="559.2" cy="41.8" rx="2.4" ry="1.95"/><ellipse cx="576.0" cy="51.9" rx="2.4" ry="1.95"/><ellipse cx="581.9" cy="44.7" rx="2.4" ry="1.95"/><ellipse cx="587.7" cy="40.4" rx="2.4" ry="1.95"/><ellipse cx="593.3" cy="34.1" rx="2.4" ry="1.95"/><ellipse cx="599.2" cy="29.6" rx="2.4" ry="1.95"/><ellipse cx="604.8" cy="22.2" rx="2.4" ry="1.95"/><ellipse cx="610.6" cy="27.4" rx="2.4" ry="1.95"/><ellipse cx="616.4" cy="28.7" rx="2.4" ry="1.95"/><ellipse cx="621.8" cy="37.7" rx="2.4" ry="1.95"/><ellipse cx="627.7" cy="31.4" rx="2.4" ry="1.95"/><ellipse cx="633.3" cy="17.5" rx="2.4" ry="1.95"/><ellipse cx="639.1" cy="31.0" rx="2.4" ry="1.95"/><ellipse cx="644.7" cy="32.1" rx="2.4" ry="1.95"/></g><g stroke="#b4b4b4" stroke-width="1.05" stroke-dasharray="1.05 4.4" stroke-dashoffset="0.52"><line x1="462.40" y1="157.30" x2="462.40" y2="84.80"/><line x1="554.00" y1="157.30" x2="554.00" y2="84.80"/><line x1="645.60" y1="157.30" x2="645.60" y2="84.80"/><line x1="371.40" y1="152.10" x2="654.00" y2="152.10"/><line x1="371.40" y1="118.60" x2="654.00" y2="118.60"/><line x1="371.40" y1="85.10" x2="654.00" y2="85.10"/></g><g fill="#000" font-family='"Liberation Sans", sans-serif'><text x="0" y="0" font-size="11.70" text-anchor="start" transform="translate(380.50 95.20) scale(1.060 1)">KOI 869.02</text><text x="0" y="0" font-size="11.70" text-anchor="start" transform="translate(508.20 95.20) scale(1.085 1)">Kepler245d</text></g><path d="M370.80 157.30v-3.00M370.80 84.00v3.00M379.96 157.30v-1.90M379.96 84.00v1.90M389.12 157.30v-1.90M389.12 84.00v1.90M398.28 157.30v-1.90M398.28 84.00v1.90M407.44 157.30v-1.90M407.44 84.00v1.90M416.60 157.30v-1.90M416.60 84.00v1.90M425.76 157.30v-1.90M425.76 84.00v1.90M434.92 157.30v-1.90M434.92 84.00v1.90M444.08 157.30v-1.90M444.08 84.00v1.90M453.24 157.30v-1.90M453.24 84.00v1.90M462.40 157.30v-3.00M462.40 84.00v3.00M471.56 157.30v-1.90M471.56 84.00v1.90M480.72 157.30v-1.90M480.72 84.00v1.90M489.88 157.30v-1.90M489.88 84.00v1.90M499.04 157.30v-1.90M499.04 84.00v1.90M508.20 157.30v-1.90M508.20 84.00v1.90M517.36 157.30v-1.90M517.36 84.00v1.90M526.52 157.30v-1.90M526.52 84.00v1.90M535.68 157.30v-1.90M535.68 84.00v1.90M544.84 157.30v-1.90M544.84 84.00v1.90M554.00 157.30v-3.00M554.00 84.00v3.00M563.16 157.30v-1.90M563.16 84.00v1.90M572.32 157.30v-1.90M572.32 84.00v1.90M581.48 157.30v-1.90M581.48 84.00v1.90M590.64 157.30v-1.90M590.64 84.00v1.90M599.80 157.30v-1.90M599.80 84.00v1.90M608.96 157.30v-1.90M608.96 84.00v1.90M618.12 157.30v-1.90M618.12 84.00v1.90M627.28 157.30v-1.90M627.28 84.00v1.90M636.44 157.30v-1.90M636.44 84.00v1.90M645.60 157.30v-3.00M645.60 84.00v3.00M371.20 152.10h3.00M654.80 152.10h-3.00M371.20 145.40h1.90M654.80 145.40h-1.90M371.20 138.70h1.90M654.80 138.70h-1.90M371.20 132.00h1.90M654.80 132.00h-1.90M371.20 125.30h1.90M654.80 125.30h-1.90M371.20 118.60h3.00M654.80 118.60h-3.00M371.20 111.90h1.90M654.80 111.90h-1.90M371.20 105.20h1.90M654.80 105.20h-1.90M371.20 98.50h1.90M654.80 98.50h-1.90M371.20 91.80h1.90M654.80 91.80h-1.90M371.20 85.10h3.00M654.80 85.10h-3.00" stroke="#262626" stroke-width="1" fill="none"/><rect x="371.20" y="84.00" width="283.60" height="73.30" fill="none" stroke="#9a9a9a" stroke-width="1.6"/><g fill="#000" font-family='"Liberation Sans", sans-serif'><text x="0" y="0" font-size="12.00" text-anchor="end" transform="translate(366.90 90.15) scale(1.050 1)">100</text><text x="0" y="0" font-size="12.00" text-anchor="end" transform="translate(366.90 123.65) scale(1.050 1)">0</text><text x="0" y="0" font-size="12.00" text-anchor="end" transform="translate(366.90 157.15) scale(1.050 1)">−100</text></g><path d="M395.4 140.9v9.0M402.3 138.3v7.0M408.8 113.0v11.0M422.2 125.9v11.0M428.8 122.1v7.0M435.7 94.5v7.0M442.2 104.8v8.0M448.9 94.1v7.0M455.6 93.7v9.0M468.7 96.2v7.0M475.4 101.0v7.0M481.9 108.5v7.0M488.3 127.9v7.0M495.0 129.0v7.0M508.6 118.9v10.0M515.2 143.6v8.0M521.9 127.0v7.0M528.6 123.0v10.0M535.2 109.4v9.0M548.2 102.5v7.0M561.7 86.8v7.0M568.4 93.0v9.0M574.9 100.0v7.0M581.4 101.2v7.0M601.4 118.7v7.0M607.9 117.6v10.0M614.4 146.7v7.0M621.2 126.3v8.0M634.6 119.9v9.0M641.4 124.0v8.0M647.9 109.2v8.0" stroke="#4c4cff" stroke-width="1.0" fill="none"/><g fill="#0000ff"><ellipse cx="395.4" cy="145.4" rx="2.4" ry="1.95"/><ellipse cx="402.3" cy="141.8" rx="2.4" ry="1.95"/><ellipse cx="408.8" cy="118.5" rx="2.4" ry="1.95"/><ellipse cx="422.2" cy="131.4" rx="2.4" ry="1.95"/><ellipse cx="428.8" cy="125.6" rx="2.4" ry="1.95"/><ellipse cx="435.7" cy="98.0" rx="2.4" ry="1.95"/><ellipse cx="442.2" cy="108.8" rx="2.4" ry="1.95"/><ellipse cx="448.9" cy="97.6" rx="2.4" ry="1.95"/><ellipse cx="455.6" cy="98.2" rx="2.4" ry="1.95"/><ellipse cx="468.7" cy="99.7" rx="2.4" ry="1.95"/><ellipse cx="475.4" cy="104.5" rx="2.4" ry="1.95"/><ellipse cx="481.9" cy="112.0" rx="2.4" ry="1.95"/><ellipse cx="488.3" cy="131.4" rx="2.4" ry="1.95"/><ellipse cx="495.0" cy="132.5" rx="2.4" ry="1.95"/><ellipse cx="508.6" cy="123.9" rx="2.4" ry="1.95"/><ellipse cx="515.2" cy="147.6" rx="2.4" ry="1.95"/><ellipse cx="521.9" cy="130.5" rx="2.4" ry="1.95"/><ellipse cx="528.6" cy="128.0" rx="2.4" ry="1.95"/><ellipse cx="535.2" cy="113.9" rx="2.4" ry="1.95"/><ellipse cx="548.2" cy="106.0" rx="2.4" ry="1.95"/><ellipse cx="561.7" cy="90.3" rx="2.4" ry="1.95"/><ellipse cx="568.4" cy="97.5" rx="2.4" ry="1.95"/><ellipse cx="574.9" cy="103.5" rx="2.4" ry="1.95"/><ellipse cx="581.4" cy="104.7" rx="2.4" ry="1.95"/><ellipse cx="601.4" cy="122.2" rx="2.4" ry="1.95"/><ellipse cx="607.9" cy="122.6" rx="2.4" ry="1.95"/><ellipse cx="614.4" cy="150.2" rx="2.4" ry="1.95"/><ellipse cx="621.2" cy="130.3" rx="2.4" ry="1.95"/><ellipse cx="634.6" cy="124.4" rx="2.4" ry="1.95"/><ellipse cx="641.4" cy="128.0" rx="2.4" ry="1.95"/><ellipse cx="647.9" cy="113.2" rx="2.4" ry="1.95"/></g><g stroke="#b4b4b4" stroke-width="1.05" stroke-dasharray="1.05 4.4" stroke-dashoffset="0.52"><line x1="462.40" y1="240.80" x2="462.40" y2="168.60"/><line x1="554.00" y1="240.80" x2="554.00" y2="168.60"/><line x1="645.60" y1="240.80" x2="645.60" y2="168.60"/><line x1="371.40" y1="236.20" x2="654.00" y2="236.20"/><line x1="371.40" y1="203.30" x2="654.00" y2="203.30"/><line x1="371.40" y1="170.40" x2="654.00" y2="170.40"/></g><g fill="#000" font-family='"Liberation Sans", sans-serif'><text x="0" y="0" font-size="11.70" text-anchor="start" transform="translate(380.50 179.00) scale(1.060 1)">KOI 870.02</text><text x="0" y="0" font-size="11.70" text-anchor="start" transform="translate(508.20 179.00) scale(1.085 1)">Kepler28c</text></g><path d="M370.80 240.80v-3.00M370.80 167.80v3.00M379.96 240.80v-1.90M379.96 167.80v1.90M389.12 240.80v-1.90M389.12 167.80v1.90M398.28 240.80v-1.90M398.28 167.80v1.90M407.44 240.80v-1.90M407.44 167.80v1.90M416.60 240.80v-1.90M416.60 167.80v1.90M425.76 240.80v-1.90M425.76 167.80v1.90M434.92 240.80v-1.90M434.92 167.80v1.90M444.08 240.80v-1.90M444.08 167.80v1.90M453.24 240.80v-1.90M453.24 167.80v1.90M462.40 240.80v-3.00M462.40 167.80v3.00M471.56 240.80v-1.90M471.56 167.80v1.90M480.72 240.80v-1.90M480.72 167.80v1.90M489.88 240.80v-1.90M489.88 167.80v1.90M499.04 240.80v-1.90M499.04 167.80v1.90M508.20 240.80v-1.90M508.20 167.80v1.90M517.36 240.80v-1.90M517.36 167.80v1.90M526.52 240.80v-1.90M526.52 167.80v1.90M535.68 240.80v-1.90M535.68 167.80v1.90M544.84 240.80v-1.90M544.84 167.80v1.90M554.00 240.80v-3.00M554.00 167.80v3.00M563.16 240.80v-1.90M563.16 167.80v1.90M572.32 240.80v-1.90M572.32 167.80v1.90M581.48 240.80v-1.90M581.48 167.80v1.90M590.64 240.80v-1.90M590.64 167.80v1.90M599.80 240.80v-1.90M599.80 167.80v1.90M608.96 240.80v-1.90M608.96 167.80v1.90M618.12 240.80v-1.90M618.12 167.80v1.90M627.28 240.80v-1.90M627.28 167.80v1.90M636.44 240.80v-1.90M636.44 167.80v1.90M645.60 240.80v-3.00M645.60 167.80v3.00M371.20 236.20h3.00M654.80 236.20h-3.00M371.20 229.62h1.90M654.80 229.62h-1.90M371.20 223.04h1.90M654.80 223.04h-1.90M371.20 216.46h1.90M654.80 216.46h-1.90M371.20 209.88h1.90M654.80 209.88h-1.90M371.20 203.30h3.00M654.80 203.30h-3.00M371.20 196.72h1.90M654.80 196.72h-1.90M371.20 190.14h1.90M654.80 190.14h-1.90M371.20 183.56h1.90M654.80 183.56h-1.90M371.20 176.98h1.90M654.80 176.98h-1.90M371.20 170.40h3.00M654.80 170.40h-3.00" stroke="#262626" stroke-width="1" fill="none"/><rect x="371.20" y="167.80" width="283.60" height="73.00" fill="none" stroke="#9a9a9a" stroke-width="1.6"/><g fill="#000" font-family='"Liberation Sans", sans-serif'><text x="0" y="0" font-size="12.00" text-anchor="end" transform="translate(366.90 175.45) scale(1.050 1)">50</text><text x="0" y="0" font-size="12.00" text-anchor="end" transform="translate(366.90 208.35) scale(1.050 1)">0</text><text x="0" y="0" font-size="12.00" text-anchor="end" transform="translate(366.90 241.25) scale(1.050 1)">−50</text></g><path d="M384.3 183.3v16.0M387.7 185.7v18.0M391.1 179.9v16.0M392.4 186.7v16.0M394.5 182.8v16.0M395.6 192.7v16.0M397.5 173.5v16.0M399.2 208.3v16.0M400.7 206.9v16.0M402.4 205.7v16.0M407.4 212.0v16.0M408.8 209.4v16.0M410.5 201.5v16.0M413.8 207.9v18.0M415.5 200.2v16.0M418.9 187.8v8.0M421.8 192.6v16.0M425.3 192.1v18.0M430.4 193.4v16.0M433.6 175.4v16.0M435.3 208.0v8.0M436.9 180.8v16.0M438.0 179.1v16.0M439.1 191.2v16.0M440.2 190.9v16.0M441.9 188.4v16.0M443.6 190.9v16.0M445.3 190.0v16.0M447.0 202.2v16.0M448.6 201.5v16.0M450.3 199.0v16.0M452.0 204.4v16.0M453.7 196.4v16.0M455.4 209.6v18.0M457.1 195.1v16.0M458.4 199.0v16.0M460.1 205.6v16.0M463.0 197.1v16.0M466.7 194.3v16.0M469.7 207.2v16.0M471.4 177.7v18.0M473.1 189.7v16.0M474.8 199.8v16.0M476.5 185.8v16.0M478.2 191.7v16.0M481.2 208.9v16.0M483.2 208.6v16.0M484.9 203.2v16.0M486.3 211.1v16.0M488.3 212.6v18.0M494.3 196.1v8.0M495.9 208.1v16.0M497.6 206.1v16.0M499.2 203.2v16.0M501.4 203.2v16.0M504.3 197.1v16.0M507.9 184.1v16.0M511.3 183.8v16.0M514.3 189.7v16.0M516.0 191.2v16.0M517.7 178.2v16.0M519.4 179.9v16.0M521.1 210.5v24.0M522.7 184.5v16.0M524.4 199.8v16.0M526.1 201.5v16.0M527.8 199.8v16.0M529.3 202.7v16.0M530.7 196.8v16.0M534.0 205.2v16.0M535.7 198.1v16.0M537.1 188.0v16.0M538.8 206.6v16.0M540.8 195.6v16.0M542.5 201.8v16.0M545.5 188.7v16.0M552.1 187.0v16.0M555.6 189.2v16.0M556.8 179.1v16.0M558.8 186.7v16.0M560.2 193.8v16.0M562.2 186.2v16.0M563.6 179.9v16.0M565.2 193.8v16.0M566.9 200.5v16.0M568.6 170.1v16.0M570.3 199.8v16.0M573.1 199.8v16.0M578.5 203.4v18.0M581.8 200.5v18.0M583.7 200.2v16.0M584.9 190.0v16.0M593.3 176.6v22.0M596.7 184.1v16.0M598.4 182.5v16.0M599.7 190.0v16.0M601.4 193.4v16.0M603.1 185.8v16.0M604.8 197.5v18.0M606.4 189.7v16.0M608.1 189.7v16.0M609.8 186.7v16.0M611.5 203.9v16.0M612.9 208.1v16.0M614.5 214.3v18.0M616.4 201.3v16.0M619.8 197.3v16.0M624.5 184.1v16.0M626.2 199.3v16.0M627.7 223.4v14.0M637.4 181.1v22.0M641.0 190.0v16.0M642.7 213.1v16.0M644.4 187.0v18.0M646.0 196.4v16.0M647.7 199.3v16.0" stroke="#4c4cff" stroke-width="1.0" fill="none"/><g fill="#0000ff"><ellipse cx="384.3" cy="191.3" rx="2.4" ry="1.95"/><ellipse cx="387.7" cy="194.7" rx="2.4" ry="1.95"/><ellipse cx="391.1" cy="187.9" rx="2.4" ry="1.95"/><ellipse cx="392.4" cy="194.7" rx="2.4" ry="1.95"/><ellipse cx="394.5" cy="190.8" rx="2.4" ry="1.95"/><ellipse cx="395.6" cy="200.7" rx="2.4" ry="1.95"/><ellipse cx="397.5" cy="181.5" rx="2.4" ry="1.95"/><ellipse cx="399.2" cy="216.3" rx="2.4" ry="1.95"/><ellipse cx="400.7" cy="214.9" rx="2.4" ry="1.95"/><ellipse cx="402.4" cy="213.7" rx="2.4" ry="1.95"/><ellipse cx="407.4" cy="220.0" rx="2.4" ry="1.95"/><ellipse cx="408.8" cy="217.4" rx="2.4" ry="1.95"/><ellipse cx="410.5" cy="209.5" rx="2.4" ry="1.95"/><ellipse cx="413.8" cy="216.9" rx="2.4" ry="1.95"/><ellipse cx="415.5" cy="208.2" rx="2.4" ry="1.95"/><ellipse cx="418.9" cy="191.8" rx="2.4" ry="1.95"/><ellipse cx="421.8" cy="200.6" rx="2.4" ry="1.95"/><ellipse cx="425.3" cy="201.1" rx="2.4" ry="1.95"/><ellipse cx="430.4" cy="201.4" rx="2.4" ry="1.95"/><ellipse cx="433.6" cy="183.4" rx="2.4" ry="1.95"/><ellipse cx="435.3" cy="212.0" rx="2.4" ry="1.95"/><ellipse cx="436.9" cy="188.8" rx="2.4" ry="1.95"/><ellipse cx="438.0" cy="187.1" rx="2.4" ry="1.95"/><ellipse cx="439.1" cy="199.2" rx="2.4" ry="1.95"/><ellipse cx="440.2" cy="198.9" rx="2.4" ry="1.95"/><ellipse cx="441.9" cy="196.4" rx="2.4" ry="1.95"/><ellipse cx="443.6" cy="198.9" rx="2.4" ry="1.95"/><ellipse cx="445.3" cy="198.0" rx="2.4" ry="1.95"/><ellipse cx="447.0" cy="210.2" rx="2.4" ry="1.95"/><ellipse cx="448.6" cy="209.5" rx="2.4" ry="1.95"/><ellipse cx="450.3" cy="207.0" rx="2.4" ry="1.95"/><ellipse cx="452.0" cy="212.4" rx="2.4" ry="1.95"/><ellipse cx="453.7" cy="204.4" rx="2.4" ry="1.95"/><ellipse cx="455.4" cy="218.6" rx="2.4" ry="1.95"/><ellipse cx="457.1" cy="203.1" rx="2.4" ry="1.95"/><ellipse cx="458.4" cy="207.0" rx="2.4" ry="1.95"/><ellipse cx="460.1" cy="213.6" rx="2.4" ry="1.95"/><ellipse cx="463.0" cy="205.1" rx="2.4" ry="1.95"/><ellipse cx="466.7" cy="202.3" rx="2.4" ry="1.95"/><ellipse cx="469.7" cy="215.2" rx="2.4" ry="1.95"/><ellipse cx="471.4" cy="186.7" rx="2.4" ry="1.95"/><ellipse cx="473.1" cy="197.7" rx="2.4" ry="1.95"/><ellipse cx="474.8" cy="207.8" rx="2.4" ry="1.95"/><ellipse cx="476.5" cy="193.8" rx="2.4" ry="1.95"/><ellipse cx="478.2" cy="199.7" rx="2.4" ry="1.95"/><ellipse cx="481.2" cy="216.9" rx="2.4" ry="1.95"/><ellipse cx="483.2" cy="216.6" rx="2.4" ry="1.95"/><ellipse cx="484.9" cy="211.2" rx="2.4" ry="1.95"/><ellipse cx="486.3" cy="219.1" rx="2.4" ry="1.95"/><ellipse cx="488.3" cy="221.6" rx="2.4" ry="1.95"/><ellipse cx="494.3" cy="200.1" rx="2.4" ry="1.95"/><ellipse cx="495.9" cy="216.1" rx="2.4" ry="1.95"/><ellipse cx="497.6" cy="214.1" rx="2.4" ry="1.95"/><ellipse cx="499.2" cy="211.2" rx="2.4" ry="1.95"/><ellipse cx="501.4" cy="211.2" rx="2.4" ry="1.95"/><ellipse cx="504.3" cy="205.1" rx="2.4" ry="1.95"/><ellipse cx="507.9" cy="192.1" rx="2.4" ry="1.95"/><ellipse cx="511.3" cy="191.8" rx="2.4" ry="1.95"/><ellipse cx="514.3" cy="197.7" rx="2.4" ry="1.95"/><ellipse cx="516.0" cy="199.2" rx="2.4" ry="1.95"/><ellipse cx="517.7" cy="186.2" rx="2.4" ry="1.95"/><ellipse cx="519.4" cy="187.9" rx="2.4" ry="1.95"/><ellipse cx="521.1" cy="222.5" rx="2.4" ry="1.95"/><ellipse cx="522.7" cy="192.5" rx="2.4" ry="1.95"/><ellipse cx="524.4" cy="207.8" rx="2.4" ry="1.95"/><ellipse cx="526.1" cy="209.5" rx="2.4" ry="1.95"/><ellipse cx="527.8" cy="207.8" rx="2.4" ry="1.95"/><ellipse cx="529.3" cy="210.7" rx="2.4" ry="1.95"/><ellipse cx="530.7" cy="204.8" rx="2.4" ry="1.95"/><ellipse cx="534.0" cy="213.2" rx="2.4" ry="1.95"/><ellipse cx="535.7" cy="206.1" rx="2.4" ry="1.95"/><ellipse cx="537.1" cy="196.0" rx="2.4" ry="1.95"/><ellipse cx="538.8" cy="214.6" rx="2.4" ry="1.95"/><ellipse cx="540.8" cy="203.6" rx="2.4" ry="1.95"/><ellipse cx="542.5" cy="209.8" rx="2.4" ry="1.95"/><ellipse cx="545.5" cy="196.7" rx="2.4" ry="1.95"/><ellipse cx="552.1" cy="195.0" rx="2.4" ry="1.95"/><ellipse cx="555.6" cy="197.2" rx="2.4" ry="1.95"/><ellipse cx="556.8" cy="187.1" rx="2.4" ry="1.95"/><ellipse cx="558.8" cy="194.7" rx="2.4" ry="1.95"/><ellipse cx="560.2" cy="201.8" rx="2.4" ry="1.95"/><ellipse cx="562.2" cy="194.2" rx="2.4" ry="1.95"/><ellipse cx="563.6" cy="187.9" rx="2.4" ry="1.95"/><ellipse cx="565.2" cy="201.8" rx="2.4" ry="1.95"/><ellipse cx="566.9" cy="208.5" rx="2.4" ry="1.95"/><ellipse cx="568.6" cy="178.1" rx="2.4" ry="1.95"/><ellipse cx="570.3" cy="207.8" rx="2.4" ry="1.95"/><ellipse cx="573.1" cy="207.8" rx="2.4" ry="1.95"/><ellipse cx="578.5" cy="212.4" rx="2.4" ry="1.95"/><ellipse cx="581.8" cy="209.5" rx="2.4" ry="1.95"/><ellipse cx="583.7" cy="208.2" rx="2.4" ry="1.95"/><ellipse cx="584.9" cy="198.0" rx="2.4" ry="1.95"/><ellipse cx="593.3" cy="187.6" rx="2.4" ry="1.95"/><ellipse cx="596.7" cy="192.1" rx="2.4" ry="1.95"/><ellipse cx="598.4" cy="190.5" rx="2.4" ry="1.95"/><ellipse cx="599.7" cy="198.0" rx="2.4" ry="1.95"/><ellipse cx="601.4" cy="201.4" rx="2.4" ry="1.95"/><ellipse cx="603.1" cy="193.8" rx="2.4" ry="1.95"/><ellipse cx="604.8" cy="206.5" rx="2.4" ry="1.95"/><ellipse cx="606.4" cy="197.7" rx="2.4" ry="1.95"/><ellipse cx="608.1" cy="197.7" rx="2.4" ry="1.95"/><ellipse cx="609.8" cy="194.7" rx="2.4" ry="1.95"/><ellipse cx="611.5" cy="211.9" rx="2.4" ry="1.95"/><ellipse cx="612.9" cy="216.1" rx="2.4" ry="1.95"/><ellipse cx="614.5" cy="223.3" rx="2.4" ry="1.95"/><ellipse cx="616.4" cy="209.3" rx="2.4" ry="1.95"/><ellipse cx="619.8" cy="205.3" rx="2.4" ry="1.95"/><ellipse cx="624.5" cy="192.1" rx="2.4" ry="1.95"/><ellipse cx="626.2" cy="207.3" rx="2.4" ry="1.95"/><ellipse cx="627.7" cy="230.4" rx="2.4" ry="1.95"/><ellipse cx="637.4" cy="192.1" rx="2.4" ry="1.95"/><ellipse cx="641.0" cy="198.0" rx="2.4" ry="1.95"/><ellipse cx="642.7" cy="221.1" rx="2.4" ry="1.95"/><ellipse cx="644.4" cy="196.0" rx="2.4" ry="1.95"/><ellipse cx="646.0" cy="204.4" rx="2.4" ry="1.95"/><ellipse cx="647.7" cy="207.3" rx="2.4" ry="1.95"/></g><g stroke="#b4b4b4" stroke-width="1.05" stroke-dasharray="1.05 4.4" stroke-dashoffset="0.52"><line x1="462.40" y1="324.10" x2="462.40" y2="252.30"/><line x1="554.00" y1="324.10" x2="554.00" y2="252.30"/><line x1="645.60" y1="324.10" x2="645.60" y2="252.30"/><line x1="371.40" y1="307.10" x2="654.00" y2="307.10"/><line x1="371.40" y1="288.50" x2="654.00" y2="288.50"/><line x1="371.40" y1="269.90" x2="654.00" y2="269.90"/></g><g fill="#000" font-family='"Liberation Sans", sans-serif'><text x="0" y="0" font-size="11.70" text-anchor="start" transform="translate(380.50 262.70) scale(1.060 1)">KOI 877.02</text><text x="0" y="0" font-size="11.70" text-anchor="start" transform="translate(508.20 262.70) scale(1.085 1)">Kepler81c</text></g><path d="M370.80 324.10v-3.00M370.80 251.50v3.00M379.96 324.10v-1.90M379.96 251.50v1.90M389.12 324.10v-1.90M389.12 251.50v1.90M398.28 324.10v-1.90M398.28 251.50v1.90M407.44 324.10v-1.90M407.44 251.50v1.90M416.60 324.10v-1.90M416.60 251.50v1.90M425.76 324.10v-1.90M425.76 251.50v1.90M434.92 324.10v-1.90M434.92 251.50v1.90M444.08 324.10v-1.90M444.08 251.50v1.90M453.24 324.10v-1.90M453.24 251.50v1.90M462.40 324.10v-3.00M462.40 251.50v3.00M471.56 324.10v-1.90M471.56 251.50v1.90M480.72 324.10v-1.90M480.72 251.50v1.90M489.88 324.10v-1.90M489.88 251.50v1.90M499.04 324.10v-1.90M499.04 251.50v1.90M508.20 324.10v-1.90M508.20 251.50v1.90M517.36 324.10v-1.90M517.36 251.50v1.90M526.52 324.10v-1.90M526.52 251.50v1.90M535.68 324.10v-1.90M535.68 251.50v1.90M544.84 324.10v-1.90M544.84 251.50v1.90M554.00 324.10v-3.00M554.00 251.50v3.00M563.16 324.10v-1.90M563.16 251.50v1.90M572.32 324.10v-1.90M572.32 251.50v1.90M581.48 324.10v-1.90M581.48 251.50v1.90M590.64 324.10v-1.90M590.64 251.50v1.90M599.80 324.10v-1.90M599.80 251.50v1.90M608.96 324.10v-1.90M608.96 251.50v1.90M618.12 324.10v-1.90M618.12 251.50v1.90M627.28 324.10v-1.90M627.28 251.50v1.90M636.44 324.10v-1.90M636.44 251.50v1.90M645.60 324.10v-3.00M645.60 251.50v3.00M371.20 316.40h1.90M654.80 316.40h-1.90M371.20 307.10h3.00M654.80 307.10h-3.00M371.20 297.80h1.90M654.80 297.80h-1.90M371.20 288.50h3.00M654.80 288.50h-3.00M371.20 279.20h1.90M654.80 279.20h-1.90M371.20 269.90h3.00M654.80 269.90h-3.00M371.20 260.60h1.90M654.80 260.60h-1.90" stroke="#262626" stroke-width="1" fill="none"/><rect x="371.20" y="251.50" width="283.60" height="72.60" fill="none" stroke="#9a9a9a" stroke-width="1.6"/><g fill="#000" font-family='"Liberation Sans", sans-serif'><text x="0" y="0" font-size="12.00" text-anchor="end" transform="translate(366.90 256.35) scale(1.050 1)">40</text><text x="0" y="0" font-size="12.00" text-anchor="end" transform="translate(366.90 274.95) scale(1.050 1)">20</text><text x="0" y="0" font-size="12.00" text-anchor="end" transform="translate(366.90 293.55) scale(1.050 1)">0</text><text x="0" y="0" font-size="12.00" text-anchor="end" transform="translate(366.90 312.15) scale(1.050 1)">−20</text></g><path d="M383.2 273.0v13.0M384.8 278.1v13.0M386.9 278.1v13.0M388.2 277.6v13.0M391.6 269.1v13.0M392.8 268.3v13.0M394.5 267.4v13.0M396.5 289.0v13.0M398.7 280.3v13.0M400.7 295.4v13.0M402.0 294.9v13.0M403.7 294.9v13.0M405.4 294.6v13.0M407.4 285.7v13.0M409.6 292.4v13.0M411.8 282.6v13.0M414.2 306.2v13.0M427.3 283.6v13.0M429.4 296.6v13.0M433.7 284.5v13.0M436.3 293.8v13.0M438.2 284.7v13.0M440.2 284.8v13.0M441.9 284.8v13.0M443.6 286.5v13.0M445.3 281.4v13.0M447.0 287.0v13.0M449.2 262.9v13.0M451.5 281.4v13.0M453.2 274.7v13.0M454.9 274.2v13.0M456.6 274.2v13.0M457.9 259.0v13.0M459.3 260.4v13.0M461.0 262.0v13.0M464.7 282.6v13.0M468.9 273.9v13.0M471.4 273.5v13.0M473.4 264.9v13.0M475.6 275.9v13.0M478.2 294.9v13.0M479.8 289.4v13.0M481.9 284.8v13.0M484.6 272.2v13.0M486.6 269.1v13.0M495.0 307.1v13.0M497.6 258.3v13.0M502.1 302.5v13.0M504.3 292.4v13.0M508.7 290.4v13.0M510.4 294.1v13.0M511.8 293.6v13.0M513.5 292.7v13.0M528.5 306.4v13.0M531.0 288.7v13.0M532.9 270.0v13.0M534.9 278.6v13.0M536.9 271.8v13.0M539.4 276.4v13.0M541.6 268.5v13.0M543.7 281.9v13.0M545.0 280.9v13.0M546.7 279.3v13.0M548.4 275.5v13.0M550.6 284.0v13.0M552.9 272.5v13.0M556.8 283.1v13.0M559.3 280.9v13.0M561.5 292.7v13.0M563.9 262.4v13.0M568.3 283.5v13.0M570.4 266.8v13.0M572.7 284.8v13.0M574.7 268.8v13.0M579.0 282.6v13.0M581.2 280.3v13.0M583.7 298.3v18.0M585.7 283.1v13.0M587.4 277.7v13.0M588.6 277.6v13.0M590.4 277.2v13.0M592.5 288.7v13.0M594.6 298.3v18.0M597.0 254.8v18.0M598.9 285.7v13.0M601.4 286.9v13.0M605.9 284.3v13.0M607.8 305.9v13.0M632.1 280.6v13.0M634.3 288.7v13.0M636.5 272.5v13.0M638.8 276.7v13.0M640.8 296.6v13.0M643.3 297.1v13.0M645.2 285.7v13.0M647.6 267.1v13.0M649.7 276.7v13.0" stroke="#4c4cff" stroke-width="1.0" fill="none"/><g fill="#0000ff"><ellipse cx="383.2" cy="279.5" rx="2.4" ry="1.95"/><ellipse cx="384.8" cy="284.6" rx="2.4" ry="1.95"/><ellipse cx="386.9" cy="284.6" rx="2.4" ry="1.95"/><ellipse cx="388.2" cy="284.1" rx="2.4" ry="1.95"/><ellipse cx="391.6" cy="275.6" rx="2.4" ry="1.95"/><ellipse cx="392.8" cy="274.8" rx="2.4" ry="1.95"/><ellipse cx="394.5" cy="273.9" rx="2.4" ry="1.95"/><ellipse cx="396.5" cy="295.5" rx="2.4" ry="1.95"/><ellipse cx="398.7" cy="286.8" rx="2.4" ry="1.95"/><ellipse cx="400.7" cy="301.9" rx="2.4" ry="1.95"/><ellipse cx="402.0" cy="301.4" rx="2.4" ry="1.95"/><ellipse cx="403.7" cy="301.4" rx="2.4" ry="1.95"/><ellipse cx="405.4" cy="301.1" rx="2.4" ry="1.95"/><ellipse cx="407.4" cy="292.2" rx="2.4" ry="1.95"/><ellipse cx="409.6" cy="298.9" rx="2.4" ry="1.95"/><ellipse cx="411.8" cy="289.1" rx="2.4" ry="1.95"/><ellipse cx="414.2" cy="312.7" rx="2.4" ry="1.95"/><ellipse cx="427.3" cy="290.1" rx="2.4" ry="1.95"/><ellipse cx="429.4" cy="303.1" rx="2.4" ry="1.95"/><ellipse cx="433.7" cy="291.0" rx="2.4" ry="1.95"/><ellipse cx="436.3" cy="300.3" rx="2.4" ry="1.95"/><ellipse cx="438.2" cy="291.2" rx="2.4" ry="1.95"/><ellipse cx="440.2" cy="291.3" rx="2.4" ry="1.95"/><ellipse cx="441.9" cy="291.3" rx="2.4" ry="1.95"/><ellipse cx="443.6" cy="293.0" rx="2.4" ry="1.95"/><ellipse cx="445.3" cy="287.9" rx="2.4" ry="1.95"/><ellipse cx="447.0" cy="293.5" rx="2.4" ry="1.95"/><ellipse cx="449.2" cy="269.4" rx="2.4" ry="1.95"/><ellipse cx="451.5" cy="287.9" rx="2.4" ry="1.95"/><ellipse cx="453.2" cy="281.2" rx="2.4" ry="1.95"/><ellipse cx="454.9" cy="280.7" rx="2.4" ry="1.95"/><ellipse cx="456.6" cy="280.7" rx="2.4" ry="1.95"/><ellipse cx="457.9" cy="265.5" rx="2.4" ry="1.95"/><ellipse cx="459.3" cy="266.9" rx="2.4" ry="1.95"/><ellipse cx="461.0" cy="268.5" rx="2.4" ry="1.95"/><ellipse cx="464.7" cy="289.1" rx="2.4" ry="1.95"/><ellipse cx="468.9" cy="280.4" rx="2.4" ry="1.95"/><ellipse cx="471.4" cy="280.0" rx="2.4" ry="1.95"/><ellipse cx="473.4" cy="271.4" rx="2.4" ry="1.95"/><ellipse cx="475.6" cy="282.4" rx="2.4" ry="1.95"/><ellipse cx="478.2" cy="301.4" rx="2.4" ry="1.95"/><ellipse cx="479.8" cy="295.9" rx="2.4" ry="1.95"/><ellipse cx="481.9" cy="291.3" rx="2.4" ry="1.95"/><ellipse cx="484.6" cy="278.7" rx="2.4" ry="1.95"/><ellipse cx="486.6" cy="275.6" rx="2.4" ry="1.95"/><ellipse cx="495.0" cy="313.6" rx="2.4" ry="1.95"/><ellipse cx="497.6" cy="264.8" rx="2.4" ry="1.95"/><ellipse cx="502.1" cy="309.0" rx="2.4" ry="1.95"/><ellipse cx="504.3" cy="298.9" rx="2.4" ry="1.95"/><ellipse cx="508.7" cy="296.9" rx="2.4" ry="1.95"/><ellipse cx="510.4" cy="300.6" rx="2.4" ry="1.95"/><ellipse cx="511.8" cy="300.1" rx="2.4" ry="1.95"/><ellipse cx="513.5" cy="299.2" rx="2.4" ry="1.95"/><ellipse cx="528.5" cy="312.9" rx="2.4" ry="1.95"/><ellipse cx="531.0" cy="295.2" rx="2.4" ry="1.95"/><ellipse cx="532.9" cy="276.5" rx="2.4" ry="1.95"/><ellipse cx="534.9" cy="285.1" rx="2.4" ry="1.95"/><ellipse cx="536.9" cy="278.3" rx="2.4" ry="1.95"/><ellipse cx="539.4" cy="282.9" rx="2.4" ry="1.95"/><ellipse cx="541.6" cy="275.0" rx="2.4" ry="1.95"/><ellipse cx="543.7" cy="288.4" rx="2.4" ry="1.95"/><ellipse cx="545.0" cy="287.4" rx="2.4" ry="1.95"/><ellipse cx="546.7" cy="285.8" rx="2.4" ry="1.95"/><ellipse cx="548.4" cy="282.0" rx="2.4" ry="1.95"/><ellipse cx="550.6" cy="290.5" rx="2.4" ry="1.95"/><ellipse cx="552.9" cy="279.0" rx="2.4" ry="1.95"/><ellipse cx="556.8" cy="289.6" rx="2.4" ry="1.95"/><ellipse cx="559.3" cy="287.4" rx="2.4" ry="1.95"/><ellipse cx="561.5" cy="299.2" rx="2.4" ry="1.95"/><ellipse cx="563.9" cy="268.9" rx="2.4" ry="1.95"/><ellipse cx="568.3" cy="290.0" rx="2.4" ry="1.95"/><ellipse cx="570.4" cy="273.3" rx="2.4" ry="1.95"/><ellipse cx="572.7" cy="291.3" rx="2.4" ry="1.95"/><ellipse cx="574.7" cy="275.3" rx="2.4" ry="1.95"/><ellipse cx="579.0" cy="289.1" rx="2.4" ry="1.95"/><ellipse cx="581.2" cy="286.8" rx="2.4" ry="1.95"/><ellipse cx="583.7" cy="307.3" rx="2.4" ry="1.95"/><ellipse cx="585.7" cy="289.6" rx="2.4" ry="1.95"/><ellipse cx="587.4" cy="284.2" rx="2.4" ry="1.95"/><ellipse cx="588.6" cy="284.1" rx="2.4" ry="1.95"/><ellipse cx="590.4" cy="283.7" rx="2.4" ry="1.95"/><ellipse cx="592.5" cy="295.2" rx="2.4" ry="1.95"/><ellipse cx="594.6" cy="307.3" rx="2.4" ry="1.95"/><ellipse cx="597.0" cy="263.8" rx="2.4" ry="1.95"/><ellipse cx="598.9" cy="292.2" rx="2.4" ry="1.95"/><ellipse cx="601.4" cy="293.4" rx="2.4" ry="1.95"/><ellipse cx="605.9" cy="290.8" rx="2.4" ry="1.95"/><ellipse cx="607.8" cy="312.4" rx="2.4" ry="1.95"/><ellipse cx="632.1" cy="287.1" rx="2.4" ry="1.95"/><ellipse cx="634.3" cy="295.2" rx="2.4" ry="1.95"/><ellipse cx="636.5" cy="279.0" rx="2.4" ry="1.95"/><ellipse cx="638.8" cy="283.2" rx="2.4" ry="1.95"/><ellipse cx="640.8" cy="303.1" rx="2.4" ry="1.95"/><ellipse cx="643.3" cy="303.6" rx="2.4" ry="1.95"/><ellipse cx="645.2" cy="292.2" rx="2.4" ry="1.95"/><ellipse cx="647.6" cy="273.6" rx="2.4" ry="1.95"/><ellipse cx="649.7" cy="283.2" rx="2.4" ry="1.95"/></g><g stroke="#b4b4b4" stroke-width="1.05" stroke-dasharray="1.05 4.4" stroke-dashoffset="0.52"><line x1="462.40" y1="408.30" x2="462.40" y2="335.40"/><line x1="554.00" y1="408.30" x2="554.00" y2="335.40"/><line x1="645.60" y1="408.30" x2="645.60" y2="335.40"/><line x1="371.40" y1="389.40" x2="654.00" y2="389.40"/><line x1="371.40" y1="370.20" x2="654.00" y2="370.20"/><line x1="371.40" y1="351.00" x2="654.00" y2="351.00"/></g><g fill="#000" font-family='"Liberation Sans", sans-serif'><text x="0" y="0" font-size="11.70" text-anchor="start" transform="translate(380.50 345.80) scale(1.060 1)">KOI 880.02</text><text x="0" y="0" font-size="11.70" text-anchor="start" transform="translate(508.20 345.80) scale(1.085 1)">Kepler82c</text></g><path d="M370.80 408.30v-3.00M370.80 334.60v3.00M379.96 408.30v-1.90M379.96 334.60v1.90M389.12 408.30v-1.90M389.12 334.60v1.90M398.28 408.30v-1.90M398.28 334.60v1.90M407.44 408.30v-1.90M407.44 334.60v1.90M416.60 408.30v-1.90M416.60 334.60v1.90M425.76 408.30v-1.90M425.76 334.60v1.90M434.92 408.30v-1.90M434.92 334.60v1.90M444.08 408.30v-1.90M444.08 334.60v1.90M453.24 408.30v-1.90M453.24 334.60v1.90M462.40 408.30v-3.00M462.40 334.60v3.00M471.56 408.30v-1.90M471.56 334.60v1.90M480.72 408.30v-1.90M480.72 334.60v1.90M489.88 408.30v-1.90M489.88 334.60v1.90M499.04 408.30v-1.90M499.04 334.60v1.90M508.20 408.30v-1.90M508.20 334.60v1.90M517.36 408.30v-1.90M517.36 334.60v1.90M526.52 408.30v-1.90M526.52 334.60v1.90M535.68 408.30v-1.90M535.68 334.60v1.90M544.84 408.30v-1.90M544.84 334.60v1.90M554.00 408.30v-3.00M554.00 334.60v3.00M563.16 408.30v-1.90M563.16 334.60v1.90M572.32 408.30v-1.90M572.32 334.60v1.90M581.48 408.30v-1.90M581.48 334.60v1.90M590.64 408.30v-1.90M590.64 334.60v1.90M599.80 408.30v-1.90M599.80 334.60v1.90M608.96 408.30v-1.90M608.96 334.60v1.90M618.12 408.30v-1.90M618.12 334.60v1.90M627.28 408.30v-1.90M627.28 334.60v1.90M636.44 408.30v-1.90M636.44 334.60v1.90M645.60 408.30v-3.00M645.60 334.60v3.00M371.20 399.00h1.90M654.80 399.00h-1.90M371.20 389.40h3.00M654.80 389.40h-3.00M371.20 379.80h1.90M654.80 379.80h-1.90M371.20 370.20h3.00M654.80 370.20h-3.00M371.20 360.60h1.90M654.80 360.60h-1.90M371.20 351.00h3.00M654.80 351.00h-3.00M371.20 341.40h1.90M654.80 341.40h-1.90" stroke="#262626" stroke-width="1" fill="none"/><rect x="371.20" y="334.60" width="283.60" height="73.70" fill="none" stroke="#9a9a9a" stroke-width="1.6"/><g fill="#000" font-family='"Liberation Sans", sans-serif'><text x="0" y="0" font-size="12.00" text-anchor="end" transform="translate(366.90 356.05) scale(1.050 1)">50</text><text x="0" y="0" font-size="12.00" text-anchor="end" transform="translate(366.90 375.25) scale(1.050 1)">0</text><text x="0" y="0" font-size="12.00" text-anchor="end" transform="translate(366.90 394.45) scale(1.050 1)">−50</text></g><g fill="#0000ff"><ellipse cx="390.5" cy="345.3" rx="2.4" ry="1.95"/><ellipse cx="400.2" cy="338.8" rx="2.4" ry="1.95"/><ellipse cx="409.4" cy="352.0" rx="2.4" ry="1.95"/><ellipse cx="418.9" cy="351.8" rx="2.4" ry="1.95"/><ellipse cx="428.2" cy="357.4" rx="2.4" ry="1.95"/><ellipse cx="447.2" cy="369.2" rx="2.4" ry="1.95"/><ellipse cx="456.6" cy="376.1" rx="2.4" ry="1.95"/><ellipse cx="466.1" cy="384.7" rx="2.4" ry="1.95"/><ellipse cx="475.4" cy="384.7" rx="2.4" ry="1.95"/><ellipse cx="484.9" cy="394.6" rx="2.4" ry="1.95"/><ellipse cx="494.4" cy="391.2" rx="2.4" ry="1.95"/><ellipse cx="503.6" cy="393.8" rx="2.4" ry="1.95"/><ellipse cx="512.8" cy="403.6" rx="2.4" ry="1.95"/><ellipse cx="522.8" cy="384.9" rx="2.4" ry="1.95"/><ellipse cx="532.0" cy="388.9" rx="2.4" ry="1.95"/><ellipse cx="541.7" cy="402.6" rx="2.4" ry="1.95"/><ellipse cx="551.1" cy="368.0" rx="2.4" ry="1.95"/><ellipse cx="560.5" cy="374.8" rx="2.4" ry="1.95"/><ellipse cx="570.0" cy="379.3" rx="2.4" ry="1.95"/><ellipse cx="579.4" cy="349.8" rx="2.4" ry="1.95"/><ellipse cx="588.8" cy="356.8" rx="2.4" ry="1.95"/><ellipse cx="598.3" cy="360.8" rx="2.4" ry="1.95"/><ellipse cx="607.7" cy="344.5" rx="2.4" ry="1.95"/><ellipse cx="626.3" cy="353.4" rx="2.4" ry="1.95"/><ellipse cx="635.8" cy="353.7" rx="2.4" ry="1.95"/><ellipse cx="645.2" cy="362.2" rx="2.4" ry="1.95"/></g><g fill="#000" font-family='"Liberation Sans", sans-serif'><text x="0" y="0" font-size="12.10" text-anchor="middle" transform="translate(44.20 422.90) scale(1.025 1)">0</text><text x="0" y="0" font-size="12.10" text-anchor="middle" transform="translate(135.70 422.90) scale(1.025 1)">500</text><text x="0" y="0" font-size="12.10" text-anchor="middle" transform="translate(227.20 422.90) scale(1.025 1)">1000</text><text x="0" y="0" font-size="12.10" text-anchor="middle" transform="translate(318.70 422.90) scale(1.025 1)">1500</text><text x="0" y="0" font-size="12.10" text-anchor="middle" transform="translate(371.00 422.90) scale(1.025 1)">0</text><text x="0" y="0" font-size="12.10" text-anchor="middle" transform="translate(462.60 422.90) scale(1.025 1)">500</text><text x="0" y="0" font-size="12.10" text-anchor="middle" transform="translate(554.20 422.90) scale(1.025 1)">1000</text><text x="0" y="0" font-size="12.10" text-anchor="middle" transform="translate(645.80 422.90) scale(1.025 1)">1500</text></g><g fill="#000" font-family='"Liberation Sans", sans-serif'><text x="0" y="0" font-size="18.30" text-anchor="middle" transform="translate(360.20 447.60) scale(1.100 1)">Time [BJD −2454900]</text><text x="0" y="0" font-size="18.7" text-anchor="middle" transform="translate(15.2 202.1) rotate(-90) scale(1 1.076)">O−C [min]</text></g>
</svg>
</body></html>
